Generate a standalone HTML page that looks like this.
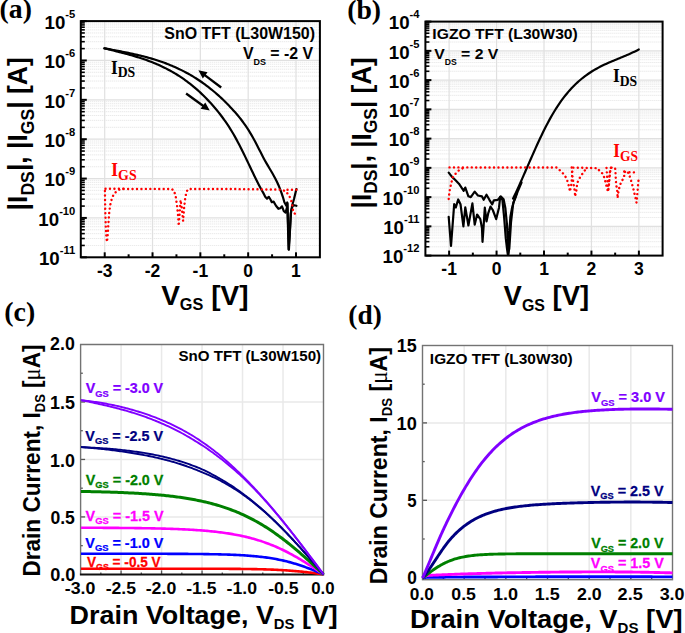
<!DOCTYPE html>
<html><head><meta charset="utf-8"><style>html,body{margin:0;padding:0;background:#fff;width:685px;height:633px;overflow:hidden}svg{display:block}</style></head><body>
<svg width="685" height="633" viewBox="0 0 685 633">
<rect width="685" height="633" fill="#fff"/>
<line x1="81.8" y1="48.62" x2="318.9" y2="48.62" stroke="#bdbdbd" stroke-width="0.9" stroke-dasharray="0.9 1.1" opacity="0.5"/>
<line x1="81.8" y1="41.68" x2="318.9" y2="41.68" stroke="#bdbdbd" stroke-width="0.9" stroke-dasharray="0.9 1.1" opacity="0.5"/>
<line x1="81.8" y1="36.77" x2="318.9" y2="36.77" stroke="#bdbdbd" stroke-width="0.9" stroke-dasharray="0.9 1.1" opacity="0.5"/>
<line x1="81.8" y1="32.95" x2="318.9" y2="32.95" stroke="#bdbdbd" stroke-width="0.9" stroke-dasharray="0.9 1.1" opacity="0.5"/>
<line x1="81.8" y1="29.83" x2="318.9" y2="29.83" stroke="#bdbdbd" stroke-width="0.9" stroke-dasharray="0.9 1.1" opacity="0.5"/>
<line x1="81.8" y1="27.2" x2="318.9" y2="27.2" stroke="#bdbdbd" stroke-width="0.9" stroke-dasharray="0.9 1.1" opacity="0.5"/>
<line x1="81.8" y1="24.92" x2="318.9" y2="24.92" stroke="#bdbdbd" stroke-width="0.9" stroke-dasharray="0.9 1.1" opacity="0.5"/>
<line x1="81.8" y1="22.9" x2="318.9" y2="22.9" stroke="#bdbdbd" stroke-width="0.9" stroke-dasharray="0.9 1.1" opacity="0.5"/>
<line x1="81.8" y1="87.98" x2="318.9" y2="87.98" stroke="#bdbdbd" stroke-width="0.9" stroke-dasharray="0.9 1.1" opacity="0.5"/>
<line x1="81.8" y1="81.05" x2="318.9" y2="81.05" stroke="#bdbdbd" stroke-width="0.9" stroke-dasharray="0.9 1.1" opacity="0.5"/>
<line x1="81.8" y1="76.13" x2="318.9" y2="76.13" stroke="#bdbdbd" stroke-width="0.9" stroke-dasharray="0.9 1.1" opacity="0.5"/>
<line x1="81.8" y1="72.32" x2="318.9" y2="72.32" stroke="#bdbdbd" stroke-width="0.9" stroke-dasharray="0.9 1.1" opacity="0.5"/>
<line x1="81.8" y1="69.2" x2="318.9" y2="69.2" stroke="#bdbdbd" stroke-width="0.9" stroke-dasharray="0.9 1.1" opacity="0.5"/>
<line x1="81.8" y1="66.56" x2="318.9" y2="66.56" stroke="#bdbdbd" stroke-width="0.9" stroke-dasharray="0.9 1.1" opacity="0.5"/>
<line x1="81.8" y1="64.28" x2="318.9" y2="64.28" stroke="#bdbdbd" stroke-width="0.9" stroke-dasharray="0.9 1.1" opacity="0.5"/>
<line x1="81.8" y1="62.27" x2="318.9" y2="62.27" stroke="#bdbdbd" stroke-width="0.9" stroke-dasharray="0.9 1.1" opacity="0.5"/>
<line x1="81.8" y1="127.35" x2="318.9" y2="127.35" stroke="#bdbdbd" stroke-width="0.9" stroke-dasharray="0.9 1.1" opacity="0.5"/>
<line x1="81.8" y1="120.42" x2="318.9" y2="120.42" stroke="#bdbdbd" stroke-width="0.9" stroke-dasharray="0.9 1.1" opacity="0.5"/>
<line x1="81.8" y1="115.5" x2="318.9" y2="115.5" stroke="#bdbdbd" stroke-width="0.9" stroke-dasharray="0.9 1.1" opacity="0.5"/>
<line x1="81.8" y1="111.68" x2="318.9" y2="111.68" stroke="#bdbdbd" stroke-width="0.9" stroke-dasharray="0.9 1.1" opacity="0.5"/>
<line x1="81.8" y1="108.57" x2="318.9" y2="108.57" stroke="#bdbdbd" stroke-width="0.9" stroke-dasharray="0.9 1.1" opacity="0.5"/>
<line x1="81.8" y1="105.93" x2="318.9" y2="105.93" stroke="#bdbdbd" stroke-width="0.9" stroke-dasharray="0.9 1.1" opacity="0.5"/>
<line x1="81.8" y1="103.65" x2="318.9" y2="103.65" stroke="#bdbdbd" stroke-width="0.9" stroke-dasharray="0.9 1.1" opacity="0.5"/>
<line x1="81.8" y1="101.63" x2="318.9" y2="101.63" stroke="#bdbdbd" stroke-width="0.9" stroke-dasharray="0.9 1.1" opacity="0.5"/>
<line x1="81.8" y1="166.72" x2="318.9" y2="166.72" stroke="#bdbdbd" stroke-width="0.9" stroke-dasharray="0.9 1.1" opacity="0.5"/>
<line x1="81.8" y1="159.78" x2="318.9" y2="159.78" stroke="#bdbdbd" stroke-width="0.9" stroke-dasharray="0.9 1.1" opacity="0.5"/>
<line x1="81.8" y1="154.87" x2="318.9" y2="154.87" stroke="#bdbdbd" stroke-width="0.9" stroke-dasharray="0.9 1.1" opacity="0.5"/>
<line x1="81.8" y1="151.05" x2="318.9" y2="151.05" stroke="#bdbdbd" stroke-width="0.9" stroke-dasharray="0.9 1.1" opacity="0.5"/>
<line x1="81.8" y1="147.93" x2="318.9" y2="147.93" stroke="#bdbdbd" stroke-width="0.9" stroke-dasharray="0.9 1.1" opacity="0.5"/>
<line x1="81.8" y1="145.3" x2="318.9" y2="145.3" stroke="#bdbdbd" stroke-width="0.9" stroke-dasharray="0.9 1.1" opacity="0.5"/>
<line x1="81.8" y1="143.02" x2="318.9" y2="143.02" stroke="#bdbdbd" stroke-width="0.9" stroke-dasharray="0.9 1.1" opacity="0.5"/>
<line x1="81.8" y1="141" x2="318.9" y2="141" stroke="#bdbdbd" stroke-width="0.9" stroke-dasharray="0.9 1.1" opacity="0.5"/>
<line x1="81.8" y1="206.08" x2="318.9" y2="206.08" stroke="#bdbdbd" stroke-width="0.9" stroke-dasharray="0.9 1.1" opacity="0.5"/>
<line x1="81.8" y1="199.15" x2="318.9" y2="199.15" stroke="#bdbdbd" stroke-width="0.9" stroke-dasharray="0.9 1.1" opacity="0.5"/>
<line x1="81.8" y1="194.23" x2="318.9" y2="194.23" stroke="#bdbdbd" stroke-width="0.9" stroke-dasharray="0.9 1.1" opacity="0.5"/>
<line x1="81.8" y1="190.42" x2="318.9" y2="190.42" stroke="#bdbdbd" stroke-width="0.9" stroke-dasharray="0.9 1.1" opacity="0.5"/>
<line x1="81.8" y1="187.3" x2="318.9" y2="187.3" stroke="#bdbdbd" stroke-width="0.9" stroke-dasharray="0.9 1.1" opacity="0.5"/>
<line x1="81.8" y1="184.66" x2="318.9" y2="184.66" stroke="#bdbdbd" stroke-width="0.9" stroke-dasharray="0.9 1.1" opacity="0.5"/>
<line x1="81.8" y1="182.38" x2="318.9" y2="182.38" stroke="#bdbdbd" stroke-width="0.9" stroke-dasharray="0.9 1.1" opacity="0.5"/>
<line x1="81.8" y1="180.37" x2="318.9" y2="180.37" stroke="#bdbdbd" stroke-width="0.9" stroke-dasharray="0.9 1.1" opacity="0.5"/>
<line x1="81.8" y1="245.45" x2="318.9" y2="245.45" stroke="#bdbdbd" stroke-width="0.9" stroke-dasharray="0.9 1.1" opacity="0.5"/>
<line x1="81.8" y1="238.52" x2="318.9" y2="238.52" stroke="#bdbdbd" stroke-width="0.9" stroke-dasharray="0.9 1.1" opacity="0.5"/>
<line x1="81.8" y1="233.6" x2="318.9" y2="233.6" stroke="#bdbdbd" stroke-width="0.9" stroke-dasharray="0.9 1.1" opacity="0.5"/>
<line x1="81.8" y1="229.78" x2="318.9" y2="229.78" stroke="#bdbdbd" stroke-width="0.9" stroke-dasharray="0.9 1.1" opacity="0.5"/>
<line x1="81.8" y1="226.67" x2="318.9" y2="226.67" stroke="#bdbdbd" stroke-width="0.9" stroke-dasharray="0.9 1.1" opacity="0.5"/>
<line x1="81.8" y1="224.03" x2="318.9" y2="224.03" stroke="#bdbdbd" stroke-width="0.9" stroke-dasharray="0.9 1.1" opacity="0.5"/>
<line x1="81.8" y1="221.75" x2="318.9" y2="221.75" stroke="#bdbdbd" stroke-width="0.9" stroke-dasharray="0.9 1.1" opacity="0.5"/>
<line x1="81.8" y1="219.73" x2="318.9" y2="219.73" stroke="#bdbdbd" stroke-width="0.9" stroke-dasharray="0.9 1.1" opacity="0.5"/>
<line x1="80.8" y1="60.47" x2="319.9" y2="60.47" stroke="#e0e0e0" stroke-width="1.2"/>
<line x1="80.8" y1="99.83" x2="319.9" y2="99.83" stroke="#e0e0e0" stroke-width="1.2"/>
<line x1="80.8" y1="139.2" x2="319.9" y2="139.2" stroke="#e0e0e0" stroke-width="1.2"/>
<line x1="80.8" y1="178.57" x2="319.9" y2="178.57" stroke="#e0e0e0" stroke-width="1.2"/>
<line x1="80.8" y1="217.93" x2="319.9" y2="217.93" stroke="#e0e0e0" stroke-width="1.2"/>
<line x1="104.71" y1="21.1" x2="104.71" y2="257.3" stroke="#e0e0e0" stroke-width="1.2"/>
<line x1="152.53" y1="21.1" x2="152.53" y2="257.3" stroke="#e0e0e0" stroke-width="1.2"/>
<line x1="200.35" y1="21.1" x2="200.35" y2="257.3" stroke="#e0e0e0" stroke-width="1.2"/>
<line x1="248.17" y1="21.1" x2="248.17" y2="257.3" stroke="#e0e0e0" stroke-width="1.2"/>
<line x1="295.99" y1="21.1" x2="295.99" y2="257.3" stroke="#e0e0e0" stroke-width="1.2"/>
<line x1="80.8" y1="21.1" x2="86.8" y2="21.1" stroke="#000" stroke-width="2"/>
<line x1="80.8" y1="48.62" x2="84.8" y2="48.62" stroke="#000" stroke-width="1.6"/>
<line x1="80.8" y1="41.68" x2="84.8" y2="41.68" stroke="#000" stroke-width="1.6"/>
<line x1="80.8" y1="36.77" x2="84.8" y2="36.77" stroke="#000" stroke-width="1.6"/>
<line x1="80.8" y1="32.95" x2="84.8" y2="32.95" stroke="#000" stroke-width="1.6"/>
<line x1="80.8" y1="29.83" x2="84.8" y2="29.83" stroke="#000" stroke-width="1.6"/>
<line x1="80.8" y1="27.2" x2="84.8" y2="27.2" stroke="#000" stroke-width="1.6"/>
<line x1="80.8" y1="24.92" x2="84.8" y2="24.92" stroke="#000" stroke-width="1.6"/>
<line x1="80.8" y1="22.9" x2="84.8" y2="22.9" stroke="#000" stroke-width="1.6"/>
<line x1="80.8" y1="60.47" x2="86.8" y2="60.47" stroke="#000" stroke-width="2"/>
<line x1="80.8" y1="87.98" x2="84.8" y2="87.98" stroke="#000" stroke-width="1.6"/>
<line x1="80.8" y1="81.05" x2="84.8" y2="81.05" stroke="#000" stroke-width="1.6"/>
<line x1="80.8" y1="76.13" x2="84.8" y2="76.13" stroke="#000" stroke-width="1.6"/>
<line x1="80.8" y1="72.32" x2="84.8" y2="72.32" stroke="#000" stroke-width="1.6"/>
<line x1="80.8" y1="69.2" x2="84.8" y2="69.2" stroke="#000" stroke-width="1.6"/>
<line x1="80.8" y1="66.56" x2="84.8" y2="66.56" stroke="#000" stroke-width="1.6"/>
<line x1="80.8" y1="64.28" x2="84.8" y2="64.28" stroke="#000" stroke-width="1.6"/>
<line x1="80.8" y1="62.27" x2="84.8" y2="62.27" stroke="#000" stroke-width="1.6"/>
<line x1="80.8" y1="99.83" x2="86.8" y2="99.83" stroke="#000" stroke-width="2"/>
<line x1="80.8" y1="127.35" x2="84.8" y2="127.35" stroke="#000" stroke-width="1.6"/>
<line x1="80.8" y1="120.42" x2="84.8" y2="120.42" stroke="#000" stroke-width="1.6"/>
<line x1="80.8" y1="115.5" x2="84.8" y2="115.5" stroke="#000" stroke-width="1.6"/>
<line x1="80.8" y1="111.68" x2="84.8" y2="111.68" stroke="#000" stroke-width="1.6"/>
<line x1="80.8" y1="108.57" x2="84.8" y2="108.57" stroke="#000" stroke-width="1.6"/>
<line x1="80.8" y1="105.93" x2="84.8" y2="105.93" stroke="#000" stroke-width="1.6"/>
<line x1="80.8" y1="103.65" x2="84.8" y2="103.65" stroke="#000" stroke-width="1.6"/>
<line x1="80.8" y1="101.63" x2="84.8" y2="101.63" stroke="#000" stroke-width="1.6"/>
<line x1="80.8" y1="139.2" x2="86.8" y2="139.2" stroke="#000" stroke-width="2"/>
<line x1="80.8" y1="166.72" x2="84.8" y2="166.72" stroke="#000" stroke-width="1.6"/>
<line x1="80.8" y1="159.78" x2="84.8" y2="159.78" stroke="#000" stroke-width="1.6"/>
<line x1="80.8" y1="154.87" x2="84.8" y2="154.87" stroke="#000" stroke-width="1.6"/>
<line x1="80.8" y1="151.05" x2="84.8" y2="151.05" stroke="#000" stroke-width="1.6"/>
<line x1="80.8" y1="147.93" x2="84.8" y2="147.93" stroke="#000" stroke-width="1.6"/>
<line x1="80.8" y1="145.3" x2="84.8" y2="145.3" stroke="#000" stroke-width="1.6"/>
<line x1="80.8" y1="143.02" x2="84.8" y2="143.02" stroke="#000" stroke-width="1.6"/>
<line x1="80.8" y1="141" x2="84.8" y2="141" stroke="#000" stroke-width="1.6"/>
<line x1="80.8" y1="178.57" x2="86.8" y2="178.57" stroke="#000" stroke-width="2"/>
<line x1="80.8" y1="206.08" x2="84.8" y2="206.08" stroke="#000" stroke-width="1.6"/>
<line x1="80.8" y1="199.15" x2="84.8" y2="199.15" stroke="#000" stroke-width="1.6"/>
<line x1="80.8" y1="194.23" x2="84.8" y2="194.23" stroke="#000" stroke-width="1.6"/>
<line x1="80.8" y1="190.42" x2="84.8" y2="190.42" stroke="#000" stroke-width="1.6"/>
<line x1="80.8" y1="187.3" x2="84.8" y2="187.3" stroke="#000" stroke-width="1.6"/>
<line x1="80.8" y1="184.66" x2="84.8" y2="184.66" stroke="#000" stroke-width="1.6"/>
<line x1="80.8" y1="182.38" x2="84.8" y2="182.38" stroke="#000" stroke-width="1.6"/>
<line x1="80.8" y1="180.37" x2="84.8" y2="180.37" stroke="#000" stroke-width="1.6"/>
<line x1="80.8" y1="217.93" x2="86.8" y2="217.93" stroke="#000" stroke-width="2"/>
<line x1="80.8" y1="245.45" x2="84.8" y2="245.45" stroke="#000" stroke-width="1.6"/>
<line x1="80.8" y1="238.52" x2="84.8" y2="238.52" stroke="#000" stroke-width="1.6"/>
<line x1="80.8" y1="233.6" x2="84.8" y2="233.6" stroke="#000" stroke-width="1.6"/>
<line x1="80.8" y1="229.78" x2="84.8" y2="229.78" stroke="#000" stroke-width="1.6"/>
<line x1="80.8" y1="226.67" x2="84.8" y2="226.67" stroke="#000" stroke-width="1.6"/>
<line x1="80.8" y1="224.03" x2="84.8" y2="224.03" stroke="#000" stroke-width="1.6"/>
<line x1="80.8" y1="221.75" x2="84.8" y2="221.75" stroke="#000" stroke-width="1.6"/>
<line x1="80.8" y1="219.73" x2="84.8" y2="219.73" stroke="#000" stroke-width="1.6"/>
<line x1="80.8" y1="257.3" x2="86.8" y2="257.3" stroke="#000" stroke-width="2"/>
<line x1="104.71" y1="257.3" x2="104.71" y2="252.3" stroke="#000" stroke-width="2"/>
<line x1="152.53" y1="257.3" x2="152.53" y2="252.3" stroke="#000" stroke-width="2"/>
<line x1="200.35" y1="257.3" x2="200.35" y2="252.3" stroke="#000" stroke-width="2"/>
<line x1="248.17" y1="257.3" x2="248.17" y2="252.3" stroke="#000" stroke-width="2"/>
<line x1="295.99" y1="257.3" x2="295.99" y2="252.3" stroke="#000" stroke-width="2"/>
<line x1="128.62" y1="257.3" x2="128.62" y2="254.3" stroke="#000" stroke-width="2"/>
<line x1="176.44" y1="257.3" x2="176.44" y2="254.3" stroke="#000" stroke-width="2"/>
<line x1="224.26" y1="257.3" x2="224.26" y2="254.3" stroke="#000" stroke-width="2"/>
<line x1="272.08" y1="257.3" x2="272.08" y2="254.3" stroke="#000" stroke-width="2"/>
<rect x="80.8" y="21.1" width="239.1" height="236.2" fill="none" stroke="#000" stroke-width="2"/>
<text x="75.3" y="28.8" text-anchor="end" font-family="Liberation Sans, sans-serif" font-weight="bold" font-size="18.7">10<tspan dy="-10.9" font-size="11.2">-5</tspan></text>
<text x="75.3" y="68.17" text-anchor="end" font-family="Liberation Sans, sans-serif" font-weight="bold" font-size="18.7">10<tspan dy="-10.9" font-size="11.2">-6</tspan></text>
<text x="75.3" y="107.53" text-anchor="end" font-family="Liberation Sans, sans-serif" font-weight="bold" font-size="18.7">10<tspan dy="-10.9" font-size="11.2">-7</tspan></text>
<text x="75.3" y="146.9" text-anchor="end" font-family="Liberation Sans, sans-serif" font-weight="bold" font-size="18.7">10<tspan dy="-10.9" font-size="11.2">-8</tspan></text>
<text x="75.3" y="186.27" text-anchor="end" font-family="Liberation Sans, sans-serif" font-weight="bold" font-size="18.7">10<tspan dy="-10.9" font-size="11.2">-9</tspan></text>
<text x="75.3" y="225.63" text-anchor="end" font-family="Liberation Sans, sans-serif" font-weight="bold" font-size="18.7">10<tspan dy="-10.9" font-size="11.2">-10</tspan></text>
<text x="75.3" y="265" text-anchor="end" font-family="Liberation Sans, sans-serif" font-weight="bold" font-size="18.7">10<tspan dy="-10.9" font-size="11.2">-11</tspan></text>
<text x="104.71" y="276.6" text-anchor="middle" font-family="Liberation Sans, sans-serif" font-weight="bold" font-size="17.5">-3</text>
<text x="152.53" y="276.6" text-anchor="middle" font-family="Liberation Sans, sans-serif" font-weight="bold" font-size="17.5">-2</text>
<text x="200.35" y="276.6" text-anchor="middle" font-family="Liberation Sans, sans-serif" font-weight="bold" font-size="17.5">-1</text>
<text x="248.17" y="276.6" text-anchor="middle" font-family="Liberation Sans, sans-serif" font-weight="bold" font-size="17.5">0</text>
<text x="295.99" y="276.6" text-anchor="middle" font-family="Liberation Sans, sans-serif" font-weight="bold" font-size="17.5">1</text>
<text id="a_xl" transform="translate(161.17,304.88) scale(1.0185,1)" font-family="Liberation Sans, sans-serif" font-weight="bold" font-size="27.5" fill="#000">V<tspan dy="5.4" font-size="16">GS</tspan><tspan dy="-5.4"> [V]</tspan></text>
<text id="a_yl" transform="translate(27.24,210.38) rotate(-90) scale(0.9285,1)" font-family="Liberation Sans, sans-serif" font-weight="bold" font-size="28.5" fill="#000">|I<tspan dy="6.3" font-size="19">DS</tspan><tspan dy="-6.3">|, |I</tspan><tspan dy="6.3" font-size="19">GS</tspan><tspan dy="-6.3">| [A]</tspan></text>
<text id="a_lbl" transform="translate(-0.38,18.4) scale(1.0261,1)" font-family="Liberation Serif, serif" font-weight="bold" font-size="27" fill="#000">(a)</text>
<text id="a_t1" transform="translate(164.37,39) scale(0.9977,1)" font-family="Liberation Sans, sans-serif" font-weight="bold" font-size="16" fill="#000">SnO TFT (L30W150)</text>
<text id="a_t2" transform="translate(242.89,58.82) scale(0.9947,1)" font-family="Liberation Sans, sans-serif" font-weight="bold" font-size="16" fill="#000">V<tspan dy="6.2" font-size="9">DS</tspan><tspan dy="-6.2"> = -2 V</tspan></text>
<text id="a_ids" transform="translate(110.97,73.5) scale(0.9160,1)" font-family="Liberation Serif, serif" font-weight="bold" font-size="18.8" fill="#000">I<tspan dy="3.6" font-size="15">DS</tspan></text>
<text id="a_igs" transform="translate(111.31,176.32) scale(0.9264,1)" font-family="Liberation Serif, serif" font-weight="bold" font-size="18.8" fill="#f00">I<tspan dy="3.6" font-size="15">GS</tspan></text>
<path d="M104.4,48.3 L105.9,48.58 L107.4,48.86 L108.9,49.15 L110.4,49.43 L111.9,49.71 L113.4,49.99 L114.9,50.28 L116.4,50.56 L117.9,50.85 L119.4,51.14 L120.9,51.43 L122.4,51.72 L123.9,52.02 L125.4,52.32 L126.9,52.63 L128.4,52.94 L129.9,53.25 L131.4,53.57 L132.9,53.9 L134.4,54.23 L135.9,54.57 L137.4,54.92 L138.9,55.27 L140.4,55.64 L141.9,56.01 L143.4,56.39 L144.9,56.77 L146.4,57.17 L147.9,57.58 L149.4,58 L150.9,58.42 L152.4,58.86 L153.9,59.31 L155.4,59.78 L156.9,60.25 L158.4,60.74 L159.9,61.24 L161.4,61.76 L162.9,62.29 L164.4,62.83 L165.9,63.39 L167.4,63.96 L168.9,64.55 L170.4,65.15 L171.9,65.77 L173.4,66.41 L174.9,67.07 L176.4,67.74 L177.9,68.43 L179.4,69.14 L180.9,69.87 L182.4,70.62 L183.9,71.38 L185.4,72.17 L186.9,72.98 L188.4,73.81 L189.9,74.66 L191.4,75.53 L192.9,76.42 L194.4,77.34 L195.9,78.28 L197.4,79.24 L198.9,80.23 L200.4,81.24 L201.9,82.27 L203.4,83.33 L204.9,84.42 L206.4,85.53 L207.9,86.67 L209.4,87.83 L210.9,89.02 L212.4,90.24 L213.9,91.48 L215.4,92.76 L216.9,94.06 L218.4,95.39 L219.9,96.76 L221.4,98.15 L222.9,99.57 L224.4,101.02 L225.9,102.5 L227.4,104.02 L228.9,105.56 L230.4,107.14 L231.9,108.76 L233.4,110.4 L234.9,112.08 L236.4,113.81 L237.9,115.58 L239.4,117.41 L240.9,119.3 L242.4,121.26 L243.9,123.3 L245.4,125.42 L246.9,127.62 L248.4,129.92 L249.9,132.32 L251.4,134.83 L252.9,137.46 L254.4,140.2 L255.9,143.05 L257.4,145.96 L258.9,148.91 L260.4,151.87 L261.9,154.8 L263.4,157.67 L264.9,160.45 L266.4,163.12 L267.9,165.68 L269.4,168.2 L270.9,170.73 L272.4,173.3 L273.9,175.97 L275.4,178.78 L276.9,181.79 L278.4,185.05 L279.9,188.61 L281.4,192.57 L282.9,197.06 L284.4,202.19 L284.4,202.2 L286.2,205.5 L287.3,202.5 L288.6,249.5 L289.7,234 L290.7,214 L292.3,205 L294,199 L296.4,189" fill="none" stroke="#000" stroke-width="2.2" stroke-linejoin="round" stroke-linecap="round"/>
<path d="M104.4,48.29 L105.9,48.67 L107.4,49.05 L108.9,49.42 L110.4,49.8 L111.9,50.18 L113.4,50.55 L114.9,50.93 L116.4,51.31 L117.9,51.69 L119.4,52.07 L120.9,52.46 L122.4,52.85 L123.9,53.24 L125.4,53.64 L126.9,54.05 L128.4,54.46 L129.9,54.87 L131.4,55.3 L132.9,55.73 L134.4,56.17 L135.9,56.62 L137.4,57.08 L138.9,57.55 L140.4,58.03 L141.9,58.52 L143.4,59.03 L144.9,59.54 L146.4,60.07 L147.9,60.61 L149.4,61.17 L150.9,61.74 L152.4,62.33 L153.9,62.93 L155.4,63.55 L156.9,64.19 L158.4,64.84 L159.9,65.51 L161.4,66.2 L162.9,66.91 L164.4,67.64 L165.9,68.39 L167.4,69.17 L168.9,69.96 L170.4,70.78 L171.9,71.62 L173.4,72.48 L174.9,73.36 L176.4,74.28 L177.9,75.21 L179.4,76.17 L180.9,77.16 L182.4,78.18 L183.9,79.22 L185.4,80.29 L186.9,81.39 L188.4,82.52 L189.9,83.68 L191.4,84.87 L192.9,86.09 L194.4,87.34 L195.9,88.62 L197.4,89.94 L198.9,91.29 L200.4,92.67 L201.9,94.09 L203.4,95.54 L204.9,97.03 L206.4,98.56 L207.9,100.12 L209.4,101.72 L210.9,103.36 L212.4,105.03 L213.9,106.75 L215.4,108.5 L216.9,110.3 L218.4,112.15 L219.9,114.04 L221.4,115.99 L222.9,118 L224.4,120.08 L225.9,122.22 L227.4,124.42 L228.9,126.71 L230.4,129.07 L231.9,131.52 L233.4,134.05 L234.9,136.67 L236.4,139.38 L237.9,142.17 L239.4,145.04 L240.9,147.98 L242.4,150.97 L243.9,154.03 L245.4,157.12 L246.9,160.25 L248.4,163.4 L249.9,166.55 L251.4,169.69 L252.9,172.82 L254.4,175.91 L255.9,178.96 L257.4,181.96 L258.9,184.88 L260.4,187.72 L261.9,190.47 L263.4,193.11 L263.4,193.1 L265.2,196.8 L267,198.6 L268.8,196.8 L270.6,199.8 L271.8,202.2 L273.6,201.6 L276,205.8 L278.4,208.8 L280.2,208.2 L282,206.4 L283.8,211.2 L285.6,212.6 L286.8,208 L287.4,203.5 L288.2,228 L288.9,249.6 L289.9,232 L291.1,211 L292.6,206 L294,205.2 L296.4,205.8" fill="none" stroke="#000" stroke-width="2.2" stroke-linejoin="round" stroke-linecap="round"/>
<line x1="221.2" y1="87.5" x2="204.39" y2="74.82" stroke="#000" stroke-width="2.3"/>
<path d="M198.4,70.3 L207.59,72.23 L202.78,78.61 Z" fill="#000"/>
<line x1="186.1" y1="93.5" x2="203.72" y2="106.21" stroke="#000" stroke-width="2.3"/>
<path d="M209.8,110.6 L200.57,108.87 L205.25,102.38 Z" fill="#000"/>
<path d="M104.9,191 L105.1,203 L105.4,215 L105.8,227 L106.3,236 L106.9,242 L107.6,237 L108.1,229 L108.6,221 L109.2,213 L110.1,205.5 L111.2,200.8 L112.6,196.5 L115.2,192.5 L119.6,189.4 L124,189 L150,188.9 L171.5,189 L174,190.5 L175.8,197 L177.2,207 L178.2,217 L178.7,226 L179.6,214 L180.6,200 L181.8,208 L183.1,221 L184,209 L185.2,198 L186.6,191.5 L188.3,189 L230,189 L280.8,189.6 L285.6,191 L289.2,195.6 L291,199.8 L292.2,204.6 L292.8,208.8 L293.4,212.4 L296.2,214.8" fill="none" stroke="#f00" stroke-width="2.4" stroke-dasharray="0.05 4.4" stroke-linecap="round" stroke-linejoin="round"/>
<path d="M287.5,189.8 L296.5,189.8" fill="none" stroke="#f00" stroke-width="2.4" stroke-dasharray="0.05 4.4" stroke-linecap="round" stroke-linejoin="round"/>
<path d="M105.5,188.8 L124,188.8" fill="none" stroke="#f00" stroke-width="2.4" stroke-dasharray="0.05 4.4" stroke-linecap="round" stroke-linejoin="round"/>
<line x1="426.4" y1="42.04" x2="661.6" y2="42.04" stroke="#bdbdbd" stroke-width="0.9" stroke-dasharray="0.9 1.1" opacity="0.5"/>
<line x1="426.4" y1="36.89" x2="661.6" y2="36.89" stroke="#bdbdbd" stroke-width="0.9" stroke-dasharray="0.9 1.1" opacity="0.5"/>
<line x1="426.4" y1="33.24" x2="661.6" y2="33.24" stroke="#bdbdbd" stroke-width="0.9" stroke-dasharray="0.9 1.1" opacity="0.5"/>
<line x1="426.4" y1="30.41" x2="661.6" y2="30.41" stroke="#bdbdbd" stroke-width="0.9" stroke-dasharray="0.9 1.1" opacity="0.5"/>
<line x1="426.4" y1="28.09" x2="661.6" y2="28.09" stroke="#bdbdbd" stroke-width="0.9" stroke-dasharray="0.9 1.1" opacity="0.5"/>
<line x1="426.4" y1="26.13" x2="661.6" y2="26.13" stroke="#bdbdbd" stroke-width="0.9" stroke-dasharray="0.9 1.1" opacity="0.5"/>
<line x1="426.4" y1="24.43" x2="661.6" y2="24.43" stroke="#bdbdbd" stroke-width="0.9" stroke-dasharray="0.9 1.1" opacity="0.5"/>
<line x1="426.4" y1="22.94" x2="661.6" y2="22.94" stroke="#bdbdbd" stroke-width="0.9" stroke-dasharray="0.9 1.1" opacity="0.5"/>
<line x1="426.4" y1="71.29" x2="661.6" y2="71.29" stroke="#bdbdbd" stroke-width="0.9" stroke-dasharray="0.9 1.1" opacity="0.5"/>
<line x1="426.4" y1="66.14" x2="661.6" y2="66.14" stroke="#bdbdbd" stroke-width="0.9" stroke-dasharray="0.9 1.1" opacity="0.5"/>
<line x1="426.4" y1="62.49" x2="661.6" y2="62.49" stroke="#bdbdbd" stroke-width="0.9" stroke-dasharray="0.9 1.1" opacity="0.5"/>
<line x1="426.4" y1="59.66" x2="661.6" y2="59.66" stroke="#bdbdbd" stroke-width="0.9" stroke-dasharray="0.9 1.1" opacity="0.5"/>
<line x1="426.4" y1="57.34" x2="661.6" y2="57.34" stroke="#bdbdbd" stroke-width="0.9" stroke-dasharray="0.9 1.1" opacity="0.5"/>
<line x1="426.4" y1="55.38" x2="661.6" y2="55.38" stroke="#bdbdbd" stroke-width="0.9" stroke-dasharray="0.9 1.1" opacity="0.5"/>
<line x1="426.4" y1="53.68" x2="661.6" y2="53.68" stroke="#bdbdbd" stroke-width="0.9" stroke-dasharray="0.9 1.1" opacity="0.5"/>
<line x1="426.4" y1="52.19" x2="661.6" y2="52.19" stroke="#bdbdbd" stroke-width="0.9" stroke-dasharray="0.9 1.1" opacity="0.5"/>
<line x1="426.4" y1="100.54" x2="661.6" y2="100.54" stroke="#bdbdbd" stroke-width="0.9" stroke-dasharray="0.9 1.1" opacity="0.5"/>
<line x1="426.4" y1="95.39" x2="661.6" y2="95.39" stroke="#bdbdbd" stroke-width="0.9" stroke-dasharray="0.9 1.1" opacity="0.5"/>
<line x1="426.4" y1="91.74" x2="661.6" y2="91.74" stroke="#bdbdbd" stroke-width="0.9" stroke-dasharray="0.9 1.1" opacity="0.5"/>
<line x1="426.4" y1="88.91" x2="661.6" y2="88.91" stroke="#bdbdbd" stroke-width="0.9" stroke-dasharray="0.9 1.1" opacity="0.5"/>
<line x1="426.4" y1="86.59" x2="661.6" y2="86.59" stroke="#bdbdbd" stroke-width="0.9" stroke-dasharray="0.9 1.1" opacity="0.5"/>
<line x1="426.4" y1="84.63" x2="661.6" y2="84.63" stroke="#bdbdbd" stroke-width="0.9" stroke-dasharray="0.9 1.1" opacity="0.5"/>
<line x1="426.4" y1="82.93" x2="661.6" y2="82.93" stroke="#bdbdbd" stroke-width="0.9" stroke-dasharray="0.9 1.1" opacity="0.5"/>
<line x1="426.4" y1="81.44" x2="661.6" y2="81.44" stroke="#bdbdbd" stroke-width="0.9" stroke-dasharray="0.9 1.1" opacity="0.5"/>
<line x1="426.4" y1="129.79" x2="661.6" y2="129.79" stroke="#bdbdbd" stroke-width="0.9" stroke-dasharray="0.9 1.1" opacity="0.5"/>
<line x1="426.4" y1="124.64" x2="661.6" y2="124.64" stroke="#bdbdbd" stroke-width="0.9" stroke-dasharray="0.9 1.1" opacity="0.5"/>
<line x1="426.4" y1="120.99" x2="661.6" y2="120.99" stroke="#bdbdbd" stroke-width="0.9" stroke-dasharray="0.9 1.1" opacity="0.5"/>
<line x1="426.4" y1="118.16" x2="661.6" y2="118.16" stroke="#bdbdbd" stroke-width="0.9" stroke-dasharray="0.9 1.1" opacity="0.5"/>
<line x1="426.4" y1="115.84" x2="661.6" y2="115.84" stroke="#bdbdbd" stroke-width="0.9" stroke-dasharray="0.9 1.1" opacity="0.5"/>
<line x1="426.4" y1="113.88" x2="661.6" y2="113.88" stroke="#bdbdbd" stroke-width="0.9" stroke-dasharray="0.9 1.1" opacity="0.5"/>
<line x1="426.4" y1="112.18" x2="661.6" y2="112.18" stroke="#bdbdbd" stroke-width="0.9" stroke-dasharray="0.9 1.1" opacity="0.5"/>
<line x1="426.4" y1="110.69" x2="661.6" y2="110.69" stroke="#bdbdbd" stroke-width="0.9" stroke-dasharray="0.9 1.1" opacity="0.5"/>
<line x1="426.4" y1="159.04" x2="661.6" y2="159.04" stroke="#bdbdbd" stroke-width="0.9" stroke-dasharray="0.9 1.1" opacity="0.5"/>
<line x1="426.4" y1="153.89" x2="661.6" y2="153.89" stroke="#bdbdbd" stroke-width="0.9" stroke-dasharray="0.9 1.1" opacity="0.5"/>
<line x1="426.4" y1="150.24" x2="661.6" y2="150.24" stroke="#bdbdbd" stroke-width="0.9" stroke-dasharray="0.9 1.1" opacity="0.5"/>
<line x1="426.4" y1="147.41" x2="661.6" y2="147.41" stroke="#bdbdbd" stroke-width="0.9" stroke-dasharray="0.9 1.1" opacity="0.5"/>
<line x1="426.4" y1="145.09" x2="661.6" y2="145.09" stroke="#bdbdbd" stroke-width="0.9" stroke-dasharray="0.9 1.1" opacity="0.5"/>
<line x1="426.4" y1="143.13" x2="661.6" y2="143.13" stroke="#bdbdbd" stroke-width="0.9" stroke-dasharray="0.9 1.1" opacity="0.5"/>
<line x1="426.4" y1="141.43" x2="661.6" y2="141.43" stroke="#bdbdbd" stroke-width="0.9" stroke-dasharray="0.9 1.1" opacity="0.5"/>
<line x1="426.4" y1="139.94" x2="661.6" y2="139.94" stroke="#bdbdbd" stroke-width="0.9" stroke-dasharray="0.9 1.1" opacity="0.5"/>
<line x1="426.4" y1="188.29" x2="661.6" y2="188.29" stroke="#bdbdbd" stroke-width="0.9" stroke-dasharray="0.9 1.1" opacity="0.5"/>
<line x1="426.4" y1="183.14" x2="661.6" y2="183.14" stroke="#bdbdbd" stroke-width="0.9" stroke-dasharray="0.9 1.1" opacity="0.5"/>
<line x1="426.4" y1="179.49" x2="661.6" y2="179.49" stroke="#bdbdbd" stroke-width="0.9" stroke-dasharray="0.9 1.1" opacity="0.5"/>
<line x1="426.4" y1="176.66" x2="661.6" y2="176.66" stroke="#bdbdbd" stroke-width="0.9" stroke-dasharray="0.9 1.1" opacity="0.5"/>
<line x1="426.4" y1="174.34" x2="661.6" y2="174.34" stroke="#bdbdbd" stroke-width="0.9" stroke-dasharray="0.9 1.1" opacity="0.5"/>
<line x1="426.4" y1="172.38" x2="661.6" y2="172.38" stroke="#bdbdbd" stroke-width="0.9" stroke-dasharray="0.9 1.1" opacity="0.5"/>
<line x1="426.4" y1="170.68" x2="661.6" y2="170.68" stroke="#bdbdbd" stroke-width="0.9" stroke-dasharray="0.9 1.1" opacity="0.5"/>
<line x1="426.4" y1="169.19" x2="661.6" y2="169.19" stroke="#bdbdbd" stroke-width="0.9" stroke-dasharray="0.9 1.1" opacity="0.5"/>
<line x1="426.4" y1="217.54" x2="661.6" y2="217.54" stroke="#bdbdbd" stroke-width="0.9" stroke-dasharray="0.9 1.1" opacity="0.5"/>
<line x1="426.4" y1="212.39" x2="661.6" y2="212.39" stroke="#bdbdbd" stroke-width="0.9" stroke-dasharray="0.9 1.1" opacity="0.5"/>
<line x1="426.4" y1="208.74" x2="661.6" y2="208.74" stroke="#bdbdbd" stroke-width="0.9" stroke-dasharray="0.9 1.1" opacity="0.5"/>
<line x1="426.4" y1="205.91" x2="661.6" y2="205.91" stroke="#bdbdbd" stroke-width="0.9" stroke-dasharray="0.9 1.1" opacity="0.5"/>
<line x1="426.4" y1="203.59" x2="661.6" y2="203.59" stroke="#bdbdbd" stroke-width="0.9" stroke-dasharray="0.9 1.1" opacity="0.5"/>
<line x1="426.4" y1="201.63" x2="661.6" y2="201.63" stroke="#bdbdbd" stroke-width="0.9" stroke-dasharray="0.9 1.1" opacity="0.5"/>
<line x1="426.4" y1="199.93" x2="661.6" y2="199.93" stroke="#bdbdbd" stroke-width="0.9" stroke-dasharray="0.9 1.1" opacity="0.5"/>
<line x1="426.4" y1="198.44" x2="661.6" y2="198.44" stroke="#bdbdbd" stroke-width="0.9" stroke-dasharray="0.9 1.1" opacity="0.5"/>
<line x1="426.4" y1="246.79" x2="661.6" y2="246.79" stroke="#bdbdbd" stroke-width="0.9" stroke-dasharray="0.9 1.1" opacity="0.5"/>
<line x1="426.4" y1="241.64" x2="661.6" y2="241.64" stroke="#bdbdbd" stroke-width="0.9" stroke-dasharray="0.9 1.1" opacity="0.5"/>
<line x1="426.4" y1="237.99" x2="661.6" y2="237.99" stroke="#bdbdbd" stroke-width="0.9" stroke-dasharray="0.9 1.1" opacity="0.5"/>
<line x1="426.4" y1="235.16" x2="661.6" y2="235.16" stroke="#bdbdbd" stroke-width="0.9" stroke-dasharray="0.9 1.1" opacity="0.5"/>
<line x1="426.4" y1="232.84" x2="661.6" y2="232.84" stroke="#bdbdbd" stroke-width="0.9" stroke-dasharray="0.9 1.1" opacity="0.5"/>
<line x1="426.4" y1="230.88" x2="661.6" y2="230.88" stroke="#bdbdbd" stroke-width="0.9" stroke-dasharray="0.9 1.1" opacity="0.5"/>
<line x1="426.4" y1="229.18" x2="661.6" y2="229.18" stroke="#bdbdbd" stroke-width="0.9" stroke-dasharray="0.9 1.1" opacity="0.5"/>
<line x1="426.4" y1="227.69" x2="661.6" y2="227.69" stroke="#bdbdbd" stroke-width="0.9" stroke-dasharray="0.9 1.1" opacity="0.5"/>
<line x1="425.4" y1="50.85" x2="662.6" y2="50.85" stroke="#e0e0e0" stroke-width="1.2"/>
<line x1="425.4" y1="80.1" x2="662.6" y2="80.1" stroke="#e0e0e0" stroke-width="1.2"/>
<line x1="425.4" y1="109.35" x2="662.6" y2="109.35" stroke="#e0e0e0" stroke-width="1.2"/>
<line x1="425.4" y1="138.6" x2="662.6" y2="138.6" stroke="#e0e0e0" stroke-width="1.2"/>
<line x1="425.4" y1="167.85" x2="662.6" y2="167.85" stroke="#e0e0e0" stroke-width="1.2"/>
<line x1="425.4" y1="197.1" x2="662.6" y2="197.1" stroke="#e0e0e0" stroke-width="1.2"/>
<line x1="425.4" y1="226.35" x2="662.6" y2="226.35" stroke="#e0e0e0" stroke-width="1.2"/>
<line x1="449.12" y1="21.6" x2="449.12" y2="255.6" stroke="#e0e0e0" stroke-width="1.2"/>
<line x1="496.56" y1="21.6" x2="496.56" y2="255.6" stroke="#e0e0e0" stroke-width="1.2"/>
<line x1="544" y1="21.6" x2="544" y2="255.6" stroke="#e0e0e0" stroke-width="1.2"/>
<line x1="591.44" y1="21.6" x2="591.44" y2="255.6" stroke="#e0e0e0" stroke-width="1.2"/>
<line x1="638.88" y1="21.6" x2="638.88" y2="255.6" stroke="#e0e0e0" stroke-width="1.2"/>
<line x1="425.4" y1="21.6" x2="431.4" y2="21.6" stroke="#000" stroke-width="2"/>
<line x1="425.4" y1="42.04" x2="429.4" y2="42.04" stroke="#000" stroke-width="1.6"/>
<line x1="425.4" y1="36.89" x2="429.4" y2="36.89" stroke="#000" stroke-width="1.6"/>
<line x1="425.4" y1="33.24" x2="429.4" y2="33.24" stroke="#000" stroke-width="1.6"/>
<line x1="425.4" y1="30.41" x2="429.4" y2="30.41" stroke="#000" stroke-width="1.6"/>
<line x1="425.4" y1="28.09" x2="429.4" y2="28.09" stroke="#000" stroke-width="1.6"/>
<line x1="425.4" y1="26.13" x2="429.4" y2="26.13" stroke="#000" stroke-width="1.6"/>
<line x1="425.4" y1="24.43" x2="429.4" y2="24.43" stroke="#000" stroke-width="1.6"/>
<line x1="425.4" y1="22.94" x2="429.4" y2="22.94" stroke="#000" stroke-width="1.6"/>
<line x1="425.4" y1="50.85" x2="431.4" y2="50.85" stroke="#000" stroke-width="2"/>
<line x1="425.4" y1="71.29" x2="429.4" y2="71.29" stroke="#000" stroke-width="1.6"/>
<line x1="425.4" y1="66.14" x2="429.4" y2="66.14" stroke="#000" stroke-width="1.6"/>
<line x1="425.4" y1="62.49" x2="429.4" y2="62.49" stroke="#000" stroke-width="1.6"/>
<line x1="425.4" y1="59.66" x2="429.4" y2="59.66" stroke="#000" stroke-width="1.6"/>
<line x1="425.4" y1="57.34" x2="429.4" y2="57.34" stroke="#000" stroke-width="1.6"/>
<line x1="425.4" y1="55.38" x2="429.4" y2="55.38" stroke="#000" stroke-width="1.6"/>
<line x1="425.4" y1="53.68" x2="429.4" y2="53.68" stroke="#000" stroke-width="1.6"/>
<line x1="425.4" y1="52.19" x2="429.4" y2="52.19" stroke="#000" stroke-width="1.6"/>
<line x1="425.4" y1="80.1" x2="431.4" y2="80.1" stroke="#000" stroke-width="2"/>
<line x1="425.4" y1="100.54" x2="429.4" y2="100.54" stroke="#000" stroke-width="1.6"/>
<line x1="425.4" y1="95.39" x2="429.4" y2="95.39" stroke="#000" stroke-width="1.6"/>
<line x1="425.4" y1="91.74" x2="429.4" y2="91.74" stroke="#000" stroke-width="1.6"/>
<line x1="425.4" y1="88.91" x2="429.4" y2="88.91" stroke="#000" stroke-width="1.6"/>
<line x1="425.4" y1="86.59" x2="429.4" y2="86.59" stroke="#000" stroke-width="1.6"/>
<line x1="425.4" y1="84.63" x2="429.4" y2="84.63" stroke="#000" stroke-width="1.6"/>
<line x1="425.4" y1="82.93" x2="429.4" y2="82.93" stroke="#000" stroke-width="1.6"/>
<line x1="425.4" y1="81.44" x2="429.4" y2="81.44" stroke="#000" stroke-width="1.6"/>
<line x1="425.4" y1="109.35" x2="431.4" y2="109.35" stroke="#000" stroke-width="2"/>
<line x1="425.4" y1="129.79" x2="429.4" y2="129.79" stroke="#000" stroke-width="1.6"/>
<line x1="425.4" y1="124.64" x2="429.4" y2="124.64" stroke="#000" stroke-width="1.6"/>
<line x1="425.4" y1="120.99" x2="429.4" y2="120.99" stroke="#000" stroke-width="1.6"/>
<line x1="425.4" y1="118.16" x2="429.4" y2="118.16" stroke="#000" stroke-width="1.6"/>
<line x1="425.4" y1="115.84" x2="429.4" y2="115.84" stroke="#000" stroke-width="1.6"/>
<line x1="425.4" y1="113.88" x2="429.4" y2="113.88" stroke="#000" stroke-width="1.6"/>
<line x1="425.4" y1="112.18" x2="429.4" y2="112.18" stroke="#000" stroke-width="1.6"/>
<line x1="425.4" y1="110.69" x2="429.4" y2="110.69" stroke="#000" stroke-width="1.6"/>
<line x1="425.4" y1="138.6" x2="431.4" y2="138.6" stroke="#000" stroke-width="2"/>
<line x1="425.4" y1="159.04" x2="429.4" y2="159.04" stroke="#000" stroke-width="1.6"/>
<line x1="425.4" y1="153.89" x2="429.4" y2="153.89" stroke="#000" stroke-width="1.6"/>
<line x1="425.4" y1="150.24" x2="429.4" y2="150.24" stroke="#000" stroke-width="1.6"/>
<line x1="425.4" y1="147.41" x2="429.4" y2="147.41" stroke="#000" stroke-width="1.6"/>
<line x1="425.4" y1="145.09" x2="429.4" y2="145.09" stroke="#000" stroke-width="1.6"/>
<line x1="425.4" y1="143.13" x2="429.4" y2="143.13" stroke="#000" stroke-width="1.6"/>
<line x1="425.4" y1="141.43" x2="429.4" y2="141.43" stroke="#000" stroke-width="1.6"/>
<line x1="425.4" y1="139.94" x2="429.4" y2="139.94" stroke="#000" stroke-width="1.6"/>
<line x1="425.4" y1="167.85" x2="431.4" y2="167.85" stroke="#000" stroke-width="2"/>
<line x1="425.4" y1="188.29" x2="429.4" y2="188.29" stroke="#000" stroke-width="1.6"/>
<line x1="425.4" y1="183.14" x2="429.4" y2="183.14" stroke="#000" stroke-width="1.6"/>
<line x1="425.4" y1="179.49" x2="429.4" y2="179.49" stroke="#000" stroke-width="1.6"/>
<line x1="425.4" y1="176.66" x2="429.4" y2="176.66" stroke="#000" stroke-width="1.6"/>
<line x1="425.4" y1="174.34" x2="429.4" y2="174.34" stroke="#000" stroke-width="1.6"/>
<line x1="425.4" y1="172.38" x2="429.4" y2="172.38" stroke="#000" stroke-width="1.6"/>
<line x1="425.4" y1="170.68" x2="429.4" y2="170.68" stroke="#000" stroke-width="1.6"/>
<line x1="425.4" y1="169.19" x2="429.4" y2="169.19" stroke="#000" stroke-width="1.6"/>
<line x1="425.4" y1="197.1" x2="431.4" y2="197.1" stroke="#000" stroke-width="2"/>
<line x1="425.4" y1="217.54" x2="429.4" y2="217.54" stroke="#000" stroke-width="1.6"/>
<line x1="425.4" y1="212.39" x2="429.4" y2="212.39" stroke="#000" stroke-width="1.6"/>
<line x1="425.4" y1="208.74" x2="429.4" y2="208.74" stroke="#000" stroke-width="1.6"/>
<line x1="425.4" y1="205.91" x2="429.4" y2="205.91" stroke="#000" stroke-width="1.6"/>
<line x1="425.4" y1="203.59" x2="429.4" y2="203.59" stroke="#000" stroke-width="1.6"/>
<line x1="425.4" y1="201.63" x2="429.4" y2="201.63" stroke="#000" stroke-width="1.6"/>
<line x1="425.4" y1="199.93" x2="429.4" y2="199.93" stroke="#000" stroke-width="1.6"/>
<line x1="425.4" y1="198.44" x2="429.4" y2="198.44" stroke="#000" stroke-width="1.6"/>
<line x1="425.4" y1="226.35" x2="431.4" y2="226.35" stroke="#000" stroke-width="2"/>
<line x1="425.4" y1="246.79" x2="429.4" y2="246.79" stroke="#000" stroke-width="1.6"/>
<line x1="425.4" y1="241.64" x2="429.4" y2="241.64" stroke="#000" stroke-width="1.6"/>
<line x1="425.4" y1="237.99" x2="429.4" y2="237.99" stroke="#000" stroke-width="1.6"/>
<line x1="425.4" y1="235.16" x2="429.4" y2="235.16" stroke="#000" stroke-width="1.6"/>
<line x1="425.4" y1="232.84" x2="429.4" y2="232.84" stroke="#000" stroke-width="1.6"/>
<line x1="425.4" y1="230.88" x2="429.4" y2="230.88" stroke="#000" stroke-width="1.6"/>
<line x1="425.4" y1="229.18" x2="429.4" y2="229.18" stroke="#000" stroke-width="1.6"/>
<line x1="425.4" y1="227.69" x2="429.4" y2="227.69" stroke="#000" stroke-width="1.6"/>
<line x1="425.4" y1="255.6" x2="431.4" y2="255.6" stroke="#000" stroke-width="2"/>
<line x1="449.12" y1="255.6" x2="449.12" y2="250.6" stroke="#000" stroke-width="2"/>
<line x1="496.56" y1="255.6" x2="496.56" y2="250.6" stroke="#000" stroke-width="2"/>
<line x1="544" y1="255.6" x2="544" y2="250.6" stroke="#000" stroke-width="2"/>
<line x1="591.44" y1="255.6" x2="591.44" y2="250.6" stroke="#000" stroke-width="2"/>
<line x1="638.88" y1="255.6" x2="638.88" y2="250.6" stroke="#000" stroke-width="2"/>
<line x1="472.84" y1="255.6" x2="472.84" y2="252.6" stroke="#000" stroke-width="2"/>
<line x1="520.28" y1="255.6" x2="520.28" y2="252.6" stroke="#000" stroke-width="2"/>
<line x1="567.72" y1="255.6" x2="567.72" y2="252.6" stroke="#000" stroke-width="2"/>
<line x1="615.16" y1="255.6" x2="615.16" y2="252.6" stroke="#000" stroke-width="2"/>
<rect x="425.4" y="21.6" width="237.2" height="234" fill="none" stroke="#000" stroke-width="2"/>
<text x="419.5" y="29.3" text-anchor="end" font-family="Liberation Sans, sans-serif" font-weight="bold" font-size="18.7">10<tspan dy="-10.9" font-size="11.2">-4</tspan></text>
<text x="419.5" y="58.55" text-anchor="end" font-family="Liberation Sans, sans-serif" font-weight="bold" font-size="18.7">10<tspan dy="-10.9" font-size="11.2">-5</tspan></text>
<text x="419.5" y="87.8" text-anchor="end" font-family="Liberation Sans, sans-serif" font-weight="bold" font-size="18.7">10<tspan dy="-10.9" font-size="11.2">-6</tspan></text>
<text x="419.5" y="117.05" text-anchor="end" font-family="Liberation Sans, sans-serif" font-weight="bold" font-size="18.7">10<tspan dy="-10.9" font-size="11.2">-7</tspan></text>
<text x="419.5" y="146.3" text-anchor="end" font-family="Liberation Sans, sans-serif" font-weight="bold" font-size="18.7">10<tspan dy="-10.9" font-size="11.2">-8</tspan></text>
<text x="419.5" y="175.55" text-anchor="end" font-family="Liberation Sans, sans-serif" font-weight="bold" font-size="18.7">10<tspan dy="-10.9" font-size="11.2">-9</tspan></text>
<text x="419.5" y="204.8" text-anchor="end" font-family="Liberation Sans, sans-serif" font-weight="bold" font-size="18.7">10<tspan dy="-10.9" font-size="11.2">-10</tspan></text>
<text x="419.5" y="234.05" text-anchor="end" font-family="Liberation Sans, sans-serif" font-weight="bold" font-size="18.7">10<tspan dy="-10.9" font-size="11.2">-11</tspan></text>
<text x="419.5" y="263.3" text-anchor="end" font-family="Liberation Sans, sans-serif" font-weight="bold" font-size="18.7">10<tspan dy="-10.9" font-size="11.2">-12</tspan></text>
<text x="449.12" y="275.4" text-anchor="middle" font-family="Liberation Sans, sans-serif" font-weight="bold" font-size="17.5">-1</text>
<text x="496.56" y="275.4" text-anchor="middle" font-family="Liberation Sans, sans-serif" font-weight="bold" font-size="17.5">0</text>
<text x="544" y="275.4" text-anchor="middle" font-family="Liberation Sans, sans-serif" font-weight="bold" font-size="17.5">1</text>
<text x="591.44" y="275.4" text-anchor="middle" font-family="Liberation Sans, sans-serif" font-weight="bold" font-size="17.5">2</text>
<text x="638.88" y="275.4" text-anchor="middle" font-family="Liberation Sans, sans-serif" font-weight="bold" font-size="17.5">3</text>
<text id="b_xl" transform="translate(503.61,305.12) scale(0.9987,1)" font-family="Liberation Sans, sans-serif" font-weight="bold" font-size="27.5" fill="#000">V<tspan dy="5.4" font-size="16">GS</tspan><tspan dy="-5.4"> [V]</tspan></text>
<text id="b_yl" transform="translate(370.54,208.4) rotate(-90) scale(0.9171,1)" font-family="Liberation Sans, sans-serif" font-weight="bold" font-size="28.5" fill="#000">|I<tspan dy="6.3" font-size="19">DS</tspan><tspan dy="-6.3">|, |I</tspan><tspan dy="6.3" font-size="19">GS</tspan><tspan dy="-6.3">| [A]</tspan></text>
<text id="b_lbl" transform="translate(347.17,18.66) scale(1.0283,1)" font-family="Liberation Serif, serif" font-weight="bold" font-size="27" fill="#000">(b)</text>
<text id="b_t1" transform="translate(432.36,38.7) scale(1.0125,1)" font-family="Liberation Sans, sans-serif" font-weight="bold" font-size="15.5" fill="#000">IGZO TFT (L30W30)</text>
<text id="b_t2" transform="translate(434.13,58.66) scale(1.0187,1)" font-family="Liberation Sans, sans-serif" font-weight="bold" font-size="15.5" fill="#000">V<tspan dy="6.6" font-size="8.5">DS</tspan><tspan dy="-6.6"> = 2 V</tspan></text>
<text id="b_ids" transform="translate(613,81.5) scale(0.9106,1)" font-family="Liberation Serif, serif" font-weight="bold" font-size="19" fill="#000">I<tspan dy="4" font-size="15">DS</tspan></text>
<text id="b_igs" transform="translate(613.28,157.38) scale(0.8994,1)" font-family="Liberation Serif, serif" font-weight="bold" font-size="19" fill="#f00">I<tspan dy="4" font-size="15">GS</tspan></text>
<path d="M513,198.62 L514.5,195.57 L516,192.42 L517.5,189.19 L519,185.88 L520.5,182.52 L522,179.11 L523.5,175.67 L525,172.23 L526.5,168.78 L528,165.34 L529.5,161.9 L531,158.48 L532.5,155.08 L534,151.71 L535.5,148.37 L537,145.07 L538.5,141.8 L540,138.59 L541.5,135.43 L543,132.33 L544.5,129.29 L546,126.32 L547.5,123.43 L549,120.62 L550.5,117.89 L552,115.25 L553.5,112.71 L555,110.24 L556.5,107.87 L558,105.57 L559.5,103.36 L561,101.23 L562.5,99.17 L564,97.18 L565.5,95.27 L567,93.43 L568.5,91.66 L570,89.96 L571.5,88.32 L573,86.74 L574.5,85.22 L576,83.77 L577.5,82.37 L579,81.02 L580.5,79.73 L582,78.49 L583.5,77.29 L585,76.15 L586.5,75.05 L588,73.99 L589.5,72.97 L591,71.99 L592.5,71.05 L594,70.14 L595.5,69.27 L597,68.43 L598.5,67.61 L600,66.83 L601.5,66.07 L603,65.33 L604.5,64.61 L606,63.91 L607.5,63.23 L609,62.57 L610.5,61.92 L612,61.27 L613.5,60.64 L615,60.02 L616.5,59.4 L618,58.78 L619.5,58.17 L621,57.55 L622.5,56.93 L624,56.31 L625.5,55.68 L627,55.04 L628.5,54.4 L630,53.73 L631.5,53.06 L633,52.37 L634.5,51.65 L636,50.92 L637.5,50.17 L638.8,49.5" fill="none" stroke="#000" stroke-width="2.2" stroke-linejoin="round" stroke-linecap="round"/>
<path d="M448.7,172.6 L451.8,176.6 L455.8,180.5 L458.9,183.7 L463.7,190.8 L465.3,187.6 L468.4,196.3 L470.8,197.1 L474.7,191.6 L477.9,195.5 L482,196.4 L483.7,199.8 L486.5,194.7 L489.4,199.8 L492.2,204.3 L493.9,200.3 L497.9,199.8 L500.7,196.4 L503.6,199.2 L505.3,207.7 L507,224.8 L507.8,241.8 L508.5,254.3 L509.3,232.7 L510.4,216.8 L512.1,207.7 L514.4,199.8 L516.5,194" fill="none" stroke="#000" stroke-width="2.2" stroke-linejoin="round" stroke-linecap="round"/>
<path d="M448.7,216.8 L451,246 L454.2,204.2 L455.8,207.4 L458.2,199.5 L460.5,204.2 L463.4,226.3 L465.3,207.4 L468.4,225.5 L472.4,203.4 L474.7,224.7 L477.1,214.5 L480.3,219.1 L482,228.2 L482.5,241.8 L483.7,224.8 L484.8,207.7 L486.5,221.4 L488.2,213.4 L490.5,206.6 L492.8,210 L496.2,219.1 L499,207.7 L500.2,196.9 L502.4,199.8 L504.1,216.8 L505.8,238.4 L507,248.6 L507.8,254.3 L509.3,248.6 L511,222.5 L513.2,203.2 L515.5,197.5 L518,190.7 L521.5,182.5" fill="none" stroke="#000" stroke-width="2.2" stroke-linejoin="round" stroke-linecap="round"/>
<path d="M449.5,167.4 L555,167.5 L557,167.6 L560.3,170.7 L564.2,174.6 L566.7,178.8 L568.1,183.1 L569.2,187.4 L570,191.6 L571.2,185 L572,178 L572.3,171 L573,167.6 L597.8,168.2 L599.3,170.7 L603.3,174.2 L604.5,178.6 L605.7,182.9 L606.8,187.3 L608,191.6 L608.8,186 L609.4,180 L610,173 L610.8,167.6 L615.1,167.9 L615.5,172.6 L615.7,177 L615.9,180.9 L616.3,185.3 L617.1,189.6 L617.5,194 L617.5,198.3 L618.7,190 L619.9,185.3 L621.9,180.9 L624.2,177 L624.2,171.1 L628.6,173 L630.5,178.6 L631.7,182.9 L632.9,187.3 L634.1,191.6 L634.9,195.9 L636.1,199.9 L636.5,202.7 L636.9,198.7 L637.3,194 L637.7,189.6 L638,185.3 L638.4,181.3 L638.8,177" fill="none" stroke="#f00" stroke-width="2.4" stroke-dasharray="0.05 4.4" stroke-linecap="round" stroke-linejoin="round"/>
<path d="M448.7,199 L449.2,194 L449.8,190 L451,184.5 L452.6,177.4 L455.8,173.4 L459.7,169.5 L463.5,168 M571.7,167.5 L572.2,175 L573.5,183.4 L574.2,187.7 L574.9,192.3 L575,196.6 L576,192.3 L576.7,188.4 L577,183.8 L578.8,179.5 L581.3,175.3 L584.5,171 L586,168 M606.5,167.9 L607,175 L607.5,183 L608.2,190 L608.8,183 L609.2,179.4 L609.6,175 L610,170.7 L611,167.5 M625,172 L629,172.2 L633,172.2 L637.3,173" fill="none" stroke="#f00" stroke-width="2.4" stroke-dasharray="0.05 4.4" stroke-linecap="round" stroke-linejoin="round"/>
<line x1="121.08" y1="344.5" x2="121.08" y2="574.4" stroke="#e9e9e9" stroke-width="1.5"/>
<line x1="161.57" y1="344.5" x2="161.57" y2="574.4" stroke="#e9e9e9" stroke-width="1.5"/>
<line x1="202.05" y1="344.5" x2="202.05" y2="574.4" stroke="#e9e9e9" stroke-width="1.5"/>
<line x1="242.53" y1="344.5" x2="242.53" y2="574.4" stroke="#e9e9e9" stroke-width="1.5"/>
<line x1="283.02" y1="344.5" x2="283.02" y2="574.4" stroke="#e9e9e9" stroke-width="1.5"/>
<line x1="80.6" y1="516.92" x2="323.5" y2="516.92" stroke="#e9e9e9" stroke-width="1.5"/>
<line x1="80.6" y1="459.45" x2="323.5" y2="459.45" stroke="#e9e9e9" stroke-width="1.5"/>
<line x1="80.6" y1="401.98" x2="323.5" y2="401.98" stroke="#e9e9e9" stroke-width="1.5"/>
<line x1="80.6" y1="545.66" x2="82.8" y2="545.66" stroke="#555" stroke-width="1.3"/>
<line x1="80.6" y1="516.92" x2="85.1" y2="516.92" stroke="#555" stroke-width="1.3"/>
<line x1="80.6" y1="488.19" x2="82.8" y2="488.19" stroke="#555" stroke-width="1.3"/>
<line x1="80.6" y1="459.45" x2="85.1" y2="459.45" stroke="#555" stroke-width="1.3"/>
<line x1="80.6" y1="430.71" x2="82.8" y2="430.71" stroke="#555" stroke-width="1.3"/>
<line x1="80.6" y1="401.98" x2="85.1" y2="401.98" stroke="#555" stroke-width="1.3"/>
<line x1="80.6" y1="373.24" x2="82.8" y2="373.24" stroke="#555" stroke-width="1.3"/>
<line x1="100.84" y1="574.4" x2="100.84" y2="572.4" stroke="#555" stroke-width="1.3"/>
<line x1="121.08" y1="574.4" x2="121.08" y2="570.4" stroke="#555" stroke-width="1.3"/>
<line x1="141.33" y1="574.4" x2="141.33" y2="572.4" stroke="#555" stroke-width="1.3"/>
<line x1="161.57" y1="574.4" x2="161.57" y2="570.4" stroke="#555" stroke-width="1.3"/>
<line x1="181.81" y1="574.4" x2="181.81" y2="572.4" stroke="#555" stroke-width="1.3"/>
<line x1="202.05" y1="574.4" x2="202.05" y2="570.4" stroke="#555" stroke-width="1.3"/>
<line x1="222.29" y1="574.4" x2="222.29" y2="572.4" stroke="#555" stroke-width="1.3"/>
<line x1="242.53" y1="574.4" x2="242.53" y2="570.4" stroke="#555" stroke-width="1.3"/>
<line x1="262.77" y1="574.4" x2="262.77" y2="572.4" stroke="#555" stroke-width="1.3"/>
<line x1="283.02" y1="574.4" x2="283.02" y2="570.4" stroke="#555" stroke-width="1.3"/>
<line x1="303.26" y1="574.4" x2="303.26" y2="572.4" stroke="#555" stroke-width="1.3"/>
<path d="M80.6,574.4 L80.6,344.5 L323.5,344.5 L323.5,574.4" fill="none" stroke="#737373" stroke-width="1.4"/>
<line x1="79.9" y1="574.4" x2="324.2" y2="574.4" stroke="#111" stroke-width="2"/>
<path d="M81,568.69 L82.5,568.69 L84,568.69 L85.5,568.69 L87,568.69 L88.5,568.69 L90,568.69 L91.5,568.69 L93,568.69 L94.5,568.69 L96,568.69 L97.5,568.69 L99,568.69 L100.5,568.69 L102,568.69 L103.5,568.69 L105,568.69 L106.5,568.69 L108,568.69 L109.5,568.69 L111,568.69 L112.5,568.69 L114,568.69 L115.5,568.69 L117,568.69 L118.5,568.69 L120,568.69 L121.5,568.69 L123,568.69 L124.5,568.69 L126,568.69 L127.5,568.69 L129,568.69 L130.5,568.69 L132,568.69 L133.5,568.69 L135,568.69 L136.5,568.69 L138,568.69 L139.5,568.69 L141,568.69 L142.5,568.69 L144,568.69 L145.5,568.69 L147,568.69 L148.5,568.69 L150,568.69 L151.5,568.69 L153,568.69 L154.5,568.69 L156,568.69 L157.5,568.69 L159,568.69 L160.5,568.69 L162,568.69 L163.5,568.69 L165,568.69 L166.5,568.69 L168,568.69 L169.5,568.69 L171,568.69 L172.5,568.7 L174,568.7 L175.5,568.7 L177,568.7 L178.5,568.7 L180,568.7 L181.5,568.7 L183,568.7 L184.5,568.7 L186,568.7 L187.5,568.71 L189,568.71 L190.5,568.71 L192,568.71 L193.5,568.71 L195,568.71 L196.5,568.72 L198,568.72 L199.5,568.72 L201,568.72 L202.5,568.73 L204,568.73 L205.5,568.73 L207,568.73 L208.5,568.74 L210,568.74 L211.5,568.75 L213,568.75 L214.5,568.76 L216,568.76 L217.5,568.77 L219,568.77 L220.5,568.78 L222,568.78 L223.5,568.79 L225,568.8 L226.5,568.81 L228,568.82 L229.5,568.83 L231,568.84 L232.5,568.85 L234,568.86 L235.5,568.87 L237,568.88 L238.5,568.9 L240,568.91 L241.5,568.93 L243,568.95 L244.5,568.96 L246,568.98 L247.5,569 L249,569.03 L250.5,569.05 L252,569.08 L253.5,569.1 L255,569.13 L256.5,569.16 L258,569.2 L259.5,569.23 L261,569.27 L262.5,569.31 L264,569.35 L265.5,569.39 L267,569.44 L268.5,569.49 L270,569.55 L271.5,569.6 L273,569.66 L274.5,569.73 L276,569.8 L277.5,569.87 L279,569.94 L280.5,570.02 L282,570.11 L283.5,570.2 L285,570.29 L286.5,570.39 L288,570.49 L289.5,570.6 L291,570.72 L292.5,570.83 L294,570.96 L295.5,571.09 L297,571.22 L298.5,571.36 L300,571.51 L301.5,571.65 L303,571.81 L304.5,571.97 L306,572.13 L307.5,572.3 L309,572.48 L310.5,572.65 L312,572.83 L313.5,573.02 L315,573.2 L316.5,573.39 L318,573.59 L319.5,573.78 L321,573.97 L322.5,574.17 L323.5,574.3" fill="none" stroke="#ff0000" stroke-width="2.6"/>
<path d="M81,553.75 L82.5,553.75 L84,553.75 L85.5,553.75 L87,553.75 L88.5,553.75 L90,553.75 L91.5,553.75 L93,553.75 L94.5,553.75 L96,553.75 L97.5,553.75 L99,553.75 L100.5,553.75 L102,553.75 L103.5,553.75 L105,553.75 L106.5,553.75 L108,553.75 L109.5,553.75 L111,553.75 L112.5,553.75 L114,553.75 L115.5,553.76 L117,553.76 L118.5,553.76 L120,553.76 L121.5,553.76 L123,553.76 L124.5,553.76 L126,553.76 L127.5,553.76 L129,553.76 L130.5,553.76 L132,553.76 L133.5,553.77 L135,553.77 L136.5,553.77 L138,553.77 L139.5,553.77 L141,553.77 L142.5,553.77 L144,553.78 L145.5,553.78 L147,553.78 L148.5,553.78 L150,553.78 L151.5,553.79 L153,553.79 L154.5,553.79 L156,553.8 L157.5,553.8 L159,553.8 L160.5,553.81 L162,553.81 L163.5,553.81 L165,553.82 L166.5,553.82 L168,553.83 L169.5,553.83 L171,553.84 L172.5,553.84 L174,553.85 L175.5,553.85 L177,553.86 L178.5,553.87 L180,553.88 L181.5,553.88 L183,553.89 L184.5,553.9 L186,553.91 L187.5,553.92 L189,553.93 L190.5,553.94 L192,553.96 L193.5,553.97 L195,553.98 L196.5,554 L198,554.01 L199.5,554.03 L201,554.05 L202.5,554.06 L204,554.08 L205.5,554.11 L207,554.13 L208.5,554.15 L210,554.18 L211.5,554.2 L213,554.23 L214.5,554.26 L216,554.29 L217.5,554.32 L219,554.36 L220.5,554.4 L222,554.44 L223.5,554.48 L225,554.52 L226.5,554.57 L228,554.62 L229.5,554.67 L231,554.73 L232.5,554.79 L234,554.85 L235.5,554.92 L237,554.99 L238.5,555.06 L240,555.14 L241.5,555.23 L243,555.32 L244.5,555.41 L246,555.51 L247.5,555.61 L249,555.72 L250.5,555.84 L252,555.96 L253.5,556.09 L255,556.23 L256.5,556.37 L258,556.52 L259.5,556.68 L261,556.85 L262.5,557.03 L264,557.21 L265.5,557.41 L267,557.61 L268.5,557.83 L270,558.06 L271.5,558.29 L273,558.54 L274.5,558.8 L276,559.08 L277.5,559.36 L279,559.66 L280.5,559.97 L282,560.3 L283.5,560.63 L285,560.98 L286.5,561.35 L288,561.73 L289.5,562.12 L291,562.53 L292.5,562.95 L294,563.39 L295.5,563.84 L297,564.31 L298.5,564.79 L300,565.28 L301.5,565.78 L303,566.3 L304.5,566.83 L306,567.37 L307.5,567.93 L309,568.49 L310.5,569.06 L312,569.65 L313.5,570.24 L315,570.83 L316.5,571.44 L318,572.04 L319.5,572.66 L321,573.27 L322.5,573.89 L323.5,574.3" fill="none" stroke="#0000ff" stroke-width="2.6"/>
<path d="M81,527.75 L82.5,527.75 L84,527.76 L85.5,527.76 L87,527.76 L88.5,527.77 L90,527.77 L91.5,527.78 L93,527.79 L94.5,527.79 L96,527.8 L97.5,527.8 L99,527.81 L100.5,527.82 L102,527.82 L103.5,527.83 L105,527.84 L106.5,527.85 L108,527.85 L109.5,527.86 L111,527.87 L112.5,527.88 L114,527.89 L115.5,527.9 L117,527.91 L118.5,527.92 L120,527.94 L121.5,527.95 L123,527.96 L124.5,527.97 L126,527.99 L127.5,528 L129,528.02 L130.5,528.03 L132,528.05 L133.5,528.07 L135,528.09 L136.5,528.1 L138,528.12 L139.5,528.14 L141,528.17 L142.5,528.19 L144,528.21 L145.5,528.24 L147,528.26 L148.5,528.29 L150,528.31 L151.5,528.34 L153,528.37 L154.5,528.4 L156,528.44 L157.5,528.47 L159,528.51 L160.5,528.54 L162,528.58 L163.5,528.62 L165,528.66 L166.5,528.71 L168,528.75 L169.5,528.8 L171,528.85 L172.5,528.9 L174,528.95 L175.5,529.01 L177,529.07 L178.5,529.13 L180,529.19 L181.5,529.26 L183,529.33 L184.5,529.4 L186,529.47 L187.5,529.55 L189,529.63 L190.5,529.72 L192,529.8 L193.5,529.9 L195,529.99 L196.5,530.09 L198,530.19 L199.5,530.3 L201,530.41 L202.5,530.53 L204,530.65 L205.5,530.78 L207,530.91 L208.5,531.05 L210,531.19 L211.5,531.34 L213,531.49 L214.5,531.65 L216,531.82 L217.5,531.99 L219,532.17 L220.5,532.36 L222,532.56 L223.5,532.76 L225,532.97 L226.5,533.19 L228,533.41 L229.5,533.65 L231,533.89 L232.5,534.15 L234,534.41 L235.5,534.68 L237,534.97 L238.5,535.26 L240,535.56 L241.5,535.88 L243,536.2 L244.5,536.54 L246,536.89 L247.5,537.25 L249,537.63 L250.5,538.02 L252,538.42 L253.5,538.83 L255,539.26 L256.5,539.7 L258,540.15 L259.5,540.62 L261,541.11 L262.5,541.61 L264,542.12 L265.5,542.65 L267,543.2 L268.5,543.76 L270,544.34 L271.5,544.93 L273,545.54 L274.5,546.17 L276,546.81 L277.5,547.47 L279,548.14 L280.5,548.83 L282,549.54 L283.5,550.27 L285,551.01 L286.5,551.76 L288,552.53 L289.5,553.32 L291,554.12 L292.5,554.94 L294,555.77 L295.5,556.62 L297,557.48 L298.5,558.36 L300,559.24 L301.5,560.14 L303,561.05 L304.5,561.97 L306,562.91 L307.5,563.85 L309,564.8 L310.5,565.76 L312,566.73 L313.5,567.7 L315,568.68 L316.5,569.66 L318,570.65 L319.5,571.64 L321,572.64 L322.5,573.64 L323.5,574.3" fill="none" stroke="#ff00ff" stroke-width="2.6"/>
<path d="M81,491.44 L82.5,491.47 L84,491.49 L85.5,491.52 L87,491.55 L88.5,491.58 L90,491.61 L91.5,491.64 L93,491.67 L94.5,491.71 L96,491.74 L97.5,491.78 L99,491.82 L100.5,491.85 L102,491.89 L103.5,491.93 L105,491.98 L106.5,492.02 L108,492.07 L109.5,492.11 L111,492.16 L112.5,492.21 L114,492.26 L115.5,492.32 L117,492.37 L118.5,492.43 L120,492.49 L121.5,492.55 L123,492.61 L124.5,492.67 L126,492.74 L127.5,492.81 L129,492.88 L130.5,492.96 L132,493.03 L133.5,493.11 L135,493.19 L136.5,493.28 L138,493.36 L139.5,493.45 L141,493.54 L142.5,493.64 L144,493.74 L145.5,493.84 L147,493.94 L148.5,494.05 L150,494.16 L151.5,494.28 L153,494.4 L154.5,494.52 L156,494.65 L157.5,494.78 L159,494.92 L160.5,495.06 L162,495.2 L163.5,495.35 L165,495.5 L166.5,495.66 L168,495.83 L169.5,495.99 L171,496.17 L172.5,496.35 L174,496.53 L175.5,496.72 L177,496.92 L178.5,497.12 L180,497.33 L181.5,497.55 L183,497.77 L184.5,498 L186,498.24 L187.5,498.48 L189,498.73 L190.5,498.99 L192,499.26 L193.5,499.54 L195,499.82 L196.5,500.11 L198,500.41 L199.5,500.72 L201,501.04 L202.5,501.37 L204,501.71 L205.5,502.05 L207,502.41 L208.5,502.78 L210,503.16 L211.5,503.55 L213,503.95 L214.5,504.36 L216,504.79 L217.5,505.22 L219,505.67 L220.5,506.13 L222,506.61 L223.5,507.09 L225,507.59 L226.5,508.1 L228,508.63 L229.5,509.17 L231,509.72 L232.5,510.29 L234,510.88 L235.5,511.47 L237,512.09 L238.5,512.72 L240,513.36 L241.5,514.02 L243,514.7 L244.5,515.39 L246,516.1 L247.5,516.83 L249,517.57 L250.5,518.33 L252,519.1 L253.5,519.9 L255,520.71 L256.5,521.54 L258,522.38 L259.5,523.25 L261,524.13 L262.5,525.03 L264,525.94 L265.5,526.88 L267,527.83 L268.5,528.8 L270,529.79 L271.5,530.8 L273,531.82 L274.5,532.86 L276,533.92 L277.5,534.99 L279,536.09 L280.5,537.2 L282,538.32 L283.5,539.46 L285,540.62 L286.5,541.79 L288,542.98 L289.5,544.18 L291,545.4 L292.5,546.63 L294,547.88 L295.5,549.14 L297,550.41 L298.5,551.69 L300,552.99 L301.5,554.29 L303,555.61 L304.5,556.94 L306,558.27 L307.5,559.62 L309,560.97 L310.5,562.33 L312,563.69 L313.5,565.06 L315,566.44 L316.5,567.82 L318,569.21 L319.5,570.59 L321,571.98 L322.5,573.37 L323.5,574.3" fill="none" stroke="#008000" stroke-width="3.0"/>
<path d="M81,447.07 L82.5,447.14 L84,447.2 L85.5,447.28 L87,447.35 L88.5,447.42 L90,447.5 L91.5,447.58 L93,447.67 L94.5,447.75 L96,447.84 L97.5,447.94 L99,448.03 L100.5,448.13 L102,448.23 L103.5,448.34 L105,448.45 L106.5,448.56 L108,448.68 L109.5,448.8 L111,448.92 L112.5,449.05 L114,449.18 L115.5,449.32 L117,449.46 L118.5,449.6 L120,449.75 L121.5,449.9 L123,450.07 L124.5,450.24 L126,450.41 L127.5,450.59 L129,450.78 L130.5,450.97 L132,451.16 L133.5,451.37 L135,451.57 L136.5,451.78 L138,452 L139.5,452.23 L141,452.46 L142.5,452.69 L144,452.93 L145.5,453.18 L147,453.44 L148.5,453.7 L150,453.97 L151.5,454.25 L153,454.53 L154.5,454.82 L156,455.12 L157.5,455.43 L159,455.74 L160.5,456.06 L162,456.4 L163.5,456.75 L165,457.11 L166.5,457.48 L168,457.86 L169.5,458.25 L171,458.65 L172.5,459.05 L174,459.47 L175.5,459.9 L177,460.33 L178.5,460.78 L180,461.24 L181.5,461.7 L183,462.18 L184.5,462.67 L186,463.17 L187.5,463.69 L189,464.21 L190.5,464.75 L192,465.29 L193.5,465.85 L195,466.43 L196.5,467.01 L198,467.61 L199.5,468.22 L201,468.85 L202.5,469.51 L204,470.22 L205.5,470.94 L207,471.68 L208.5,472.44 L210,473.21 L211.5,473.99 L213,474.79 L214.5,475.6 L216,476.43 L217.5,477.26 L219,478.1 L220.5,478.96 L222,479.83 L223.5,480.72 L225,481.62 L226.5,482.54 L228,483.48 L229.5,484.44 L231,485.41 L232.5,486.4 L234,487.4 L235.5,488.42 L237,489.46 L238.5,490.52 L240,491.6 L241.5,492.69 L243,493.8 L244.5,494.91 L246,496.04 L247.5,497.18 L249,498.34 L250.5,499.52 L252,500.72 L253.5,501.94 L255,503.17 L256.5,504.42 L258,505.69 L259.5,506.98 L261,508.28 L262.5,509.6 L264,510.94 L265.5,512.29 L267,513.67 L268.5,515.05 L270,516.46 L271.5,517.88 L273,519.32 L274.5,520.77 L276,522.24 L277.5,523.73 L279,525.23 L280.5,526.75 L282,528.28 L283.5,529.82 L285,531.36 L286.5,532.92 L288,534.49 L289.5,536.07 L291,537.66 L292.5,539.27 L294,540.89 L295.5,542.52 L297,544.16 L298.5,545.81 L300,547.47 L301.5,549.14 L303,550.81 L304.5,552.5 L306,554.19 L307.5,555.89 L309,557.6 L310.5,559.31 L312,561.03 L313.5,562.75 L315,564.47 L316.5,566.2 L318,567.93 L319.5,569.67 L321,571.4 L322.5,573.14 L323.5,574.3" fill="none" stroke="#000080" stroke-width="1.9"/>
<path d="M81,447.07 L82.5,447.19 L84,447.32 L85.5,447.44 L87,447.57 L88.5,447.7 L90,447.84 L91.5,447.97 L93,448.11 L94.5,448.26 L96,448.4 L97.5,448.55 L99,448.7 L100.5,448.86 L102,449.01 L103.5,449.18 L105,449.34 L106.5,449.51 L108,449.68 L109.5,449.86 L111,450.04 L112.5,450.22 L114,450.41 L115.5,450.6 L117,450.8 L118.5,451 L120,451.2 L121.5,451.41 L123,451.62 L124.5,451.83 L126,452.04 L127.5,452.26 L129,452.49 L130.5,452.72 L132,452.96 L133.5,453.2 L135,453.45 L136.5,453.7 L138,453.96 L139.5,454.22 L141,454.49 L142.5,454.77 L144,455.06 L145.5,455.35 L147,455.64 L148.5,455.95 L150,456.26 L151.5,456.57 L153,456.9 L154.5,457.23 L156,457.57 L157.5,457.92 L159,458.27 L160.5,458.64 L162,459 L163.5,459.37 L165,459.75 L166.5,460.13 L168,460.53 L169.5,460.93 L171,461.34 L172.5,461.76 L174,462.19 L175.5,462.63 L177,463.09 L178.5,463.55 L180,464.02 L181.5,464.5 L183,465 L184.5,465.5 L186,466.02 L187.5,466.54 L189,467.08 L190.5,467.63 L192,468.2 L193.5,468.77 L195,469.36 L196.5,469.96 L198,470.57 L199.5,471.2 L201,471.84 L202.5,472.47 L204,473.08 L205.5,473.7 L207,474.33 L208.5,474.98 L210,475.65 L211.5,476.32 L213,477.02 L214.5,477.73 L216,478.45 L217.5,479.2 L219,479.98 L220.5,480.77 L222,481.57 L223.5,482.39 L225,483.23 L226.5,484.09 L228,484.96 L229.5,485.84 L231,486.75 L232.5,487.67 L234,488.61 L235.5,489.56 L237,490.53 L238.5,491.52 L240,492.53 L241.5,493.56 L243,494.6 L244.5,495.68 L246,496.78 L247.5,497.89 L249,499.02 L250.5,500.17 L252,501.34 L253.5,502.53 L255,503.73 L256.5,504.95 L258,506.19 L259.5,507.45 L261,508.72 L262.5,510.01 L264,511.32 L265.5,512.64 L267,513.99 L268.5,515.34 L270,516.72 L271.5,518.11 L273,519.52 L274.5,520.94 L276,522.38 L277.5,523.84 L279,525.31 L280.5,526.8 L282,528.3 L283.5,529.82 L285,531.36 L286.5,532.92 L288,534.49 L289.5,536.07 L291,537.66 L292.5,539.27 L294,540.89 L295.5,542.52 L297,544.16 L298.5,545.81 L300,547.47 L301.5,549.14 L303,550.81 L304.5,552.5 L306,554.19 L307.5,555.89 L309,557.6 L310.5,559.31 L312,561.03 L313.5,562.75 L315,564.47 L316.5,566.2 L318,567.93 L319.5,569.67 L321,571.4 L322.5,573.14 L323.5,574.3" fill="none" stroke="#000080" stroke-width="1.9"/>
<path d="M81,400.18 L82.5,400.34 L84,400.51 L85.5,400.68 L87,400.86 L88.5,401.04 L90,401.23 L91.5,401.42 L93,401.61 L94.5,401.82 L96,402.02 L97.5,402.24 L99,402.46 L100.5,402.68 L102,402.94 L103.5,403.21 L105,403.48 L106.5,403.77 L108,404.06 L109.5,404.35 L111,404.66 L112.5,404.96 L114,405.28 L115.5,405.6 L117,405.93 L118.5,406.27 L120,406.62 L121.5,406.97 L123,407.34 L124.5,407.72 L126,408.11 L127.5,408.5 L129,408.91 L130.5,409.32 L132,409.74 L133.5,410.17 L135,410.61 L136.5,411.05 L138,411.51 L139.5,411.97 L141,412.45 L142.5,412.93 L144,413.42 L145.5,413.93 L147,414.44 L148.5,414.96 L150,415.49 L151.5,416.03 L153,416.59 L154.5,417.15 L156,417.72 L157.5,418.31 L159,418.91 L160.5,419.51 L162,420.14 L163.5,420.78 L165,421.43 L166.5,422.1 L168,422.78 L169.5,423.47 L171,424.17 L172.5,424.89 L174,425.61 L175.5,426.35 L177,427.11 L178.5,427.88 L180,428.66 L181.5,429.45 L183,430.26 L184.5,431.08 L186,431.91 L187.5,432.76 L189,433.62 L190.5,434.5 L192,435.39 L193.5,436.3 L195,437.22 L196.5,438.19 L198,439.17 L199.5,440.16 L201,441.17 L202.5,442.2 L204,443.24 L205.5,444.3 L207,445.37 L208.5,446.46 L210,447.57 L211.5,448.69 L213,449.83 L214.5,450.98 L216,452.15 L217.5,453.35 L219,454.58 L220.5,455.82 L222,457.08 L223.5,458.36 L225,459.65 L226.5,460.96 L228,462.29 L229.5,463.63 L231,464.99 L232.5,466.37 L234,467.76 L235.5,469.17 L237,470.6 L238.5,472.05 L240,473.51 L241.5,474.99 L243,476.48 L244.5,477.97 L246,479.47 L247.5,480.99 L249,482.53 L250.5,484.08 L252,485.65 L253.5,487.23 L255,488.83 L256.5,490.45 L258,492.08 L259.5,493.73 L261,495.39 L262.5,497.07 L264,498.77 L265.5,500.48 L267,502.2 L268.5,503.94 L270,505.69 L271.5,507.44 L273,509.21 L274.5,510.98 L276,512.77 L277.5,514.58 L279,516.39 L280.5,518.22 L282,520.06 L283.5,521.91 L285,523.78 L286.5,525.65 L288,527.54 L289.5,529.44 L291,531.34 L292.5,533.26 L294,535.18 L295.5,537.12 L297,539.06 L298.5,541.01 L300,542.97 L301.5,544.93 L303,546.9 L304.5,548.88 L306,550.87 L307.5,552.86 L309,554.85 L310.5,556.85 L312,558.85 L313.5,560.86 L315,562.87 L316.5,564.88 L318,566.9 L319.5,568.92 L321,570.93 L322.5,572.95 L323.5,574.3" fill="none" stroke="#8000ff" stroke-width="1.9"/>
<path d="M81,400.18 L82.5,400.47 L84,400.76 L85.5,401.06 L87,401.37 L88.5,401.68 L90,401.99 L91.5,402.31 L93,402.63 L94.5,402.96 L96,403.3 L97.5,403.64 L99,403.99 L100.5,404.34 L102,404.68 L103.5,405.01 L105,405.34 L106.5,405.68 L108,406.03 L109.5,406.39 L111,406.75 L112.5,407.12 L114,407.49 L115.5,407.88 L117,408.26 L118.5,408.66 L120,409.06 L121.5,409.47 L123,409.88 L124.5,410.29 L126,410.71 L127.5,411.14 L129,411.58 L130.5,412.03 L132,412.48 L133.5,412.94 L135,413.41 L136.5,413.89 L138,414.38 L139.5,414.88 L141,415.39 L142.5,415.91 L144,416.43 L145.5,416.97 L147,417.51 L148.5,418.07 L150,418.63 L151.5,419.21 L153,419.8 L154.5,420.39 L156,421 L157.5,421.62 L159,422.25 L160.5,422.89 L162,423.54 L163.5,424.19 L165,424.85 L166.5,425.53 L168,426.22 L169.5,426.92 L171,427.63 L172.5,428.35 L174,429.09 L175.5,429.84 L177,430.6 L178.5,431.38 L180,432.17 L181.5,432.97 L183,433.78 L184.5,434.61 L186,435.46 L187.5,436.32 L189,437.19 L190.5,438.07 L192,438.98 L193.5,439.89 L195,440.82 L196.5,441.74 L198,442.67 L199.5,443.61 L201,444.58 L202.5,445.55 L204,446.55 L205.5,447.55 L207,448.58 L208.5,449.62 L210,450.67 L211.5,451.75 L213,452.83 L214.5,453.94 L216,455.06 L217.5,456.18 L219,457.31 L220.5,458.46 L222,459.62 L223.5,460.8 L225,462 L226.5,463.21 L228,464.44 L229.5,465.69 L231,466.96 L232.5,468.24 L234,469.54 L235.5,470.85 L237,472.18 L238.5,473.53 L240,474.9 L241.5,476.28 L243,477.68 L244.5,479.12 L246,480.58 L247.5,482.06 L249,483.55 L250.5,485.06 L252,486.58 L253.5,488.12 L255,489.68 L256.5,491.25 L258,492.84 L259.5,494.44 L261,496.06 L262.5,497.7 L264,499.35 L265.5,501.01 L267,502.69 L268.5,504.38 L270,506.09 L271.5,507.83 L273,509.58 L274.5,511.35 L276,513.13 L277.5,514.92 L279,516.73 L280.5,518.54 L282,520.37 L283.5,522.21 L285,524.07 L286.5,525.93 L288,527.81 L289.5,529.69 L291,531.58 L292.5,533.49 L294,535.4 L295.5,537.33 L297,539.26 L298.5,541.2 L300,543.14 L301.5,545.1 L303,547.06 L304.5,549.02 L306,551 L307.5,552.98 L309,554.96 L310.5,556.95 L312,558.94 L313.5,560.94 L315,562.94 L316.5,564.94 L318,566.94 L319.5,568.95 L321,570.95 L322.5,572.96 L323.5,574.3" fill="none" stroke="#8000ff" stroke-width="1.9"/>
<text id="c_yt_20" transform="translate(74.81,350.34) scale(1.0158,1)" font-family="Liberation Sans, sans-serif" font-weight="bold" font-size="17.5" fill="#000" text-anchor="end">2.0</text>
<text id="c_yt_15" transform="translate(74.85,408.62) scale(1.0237,1)" font-family="Liberation Sans, sans-serif" font-weight="bold" font-size="17.5" fill="#000" text-anchor="end">1.5</text>
<text id="c_yt_10" transform="translate(74.86,466.57) scale(1.0245,1)" font-family="Liberation Sans, sans-serif" font-weight="bold" font-size="17.5" fill="#000" text-anchor="end">1.0</text>
<text id="c_yt_5" transform="translate(74.91,524.2) scale(1.0058,1)" font-family="Liberation Sans, sans-serif" font-weight="bold" font-size="17.5" fill="#000" text-anchor="end">0.5</text>
<text id="c_yt_0" transform="translate(75.41,581.04) scale(1.0382,1)" font-family="Liberation Sans, sans-serif" font-weight="bold" font-size="17.5" fill="#000" text-anchor="end">0.0</text>
<text id="c_xt_30" transform="translate(80.1,594.16) scale(1.0763,1)" font-family="Liberation Sans, sans-serif" font-weight="bold" font-size="16.5" fill="#000" text-anchor="middle">-3.0</text>
<text id="c_xt_25" transform="translate(120.84,594.16) scale(1.0681,1)" font-family="Liberation Sans, sans-serif" font-weight="bold" font-size="16.5" fill="#000" text-anchor="middle">-2.5</text>
<text id="c_xt_20" transform="translate(160.99,594.16) scale(1.0754,1)" font-family="Liberation Sans, sans-serif" font-weight="bold" font-size="16.5" fill="#000" text-anchor="middle">-2.0</text>
<text id="c_xt_15" transform="translate(201.28,594.16) scale(1.0663,1)" font-family="Liberation Sans, sans-serif" font-weight="bold" font-size="16.5" fill="#000" text-anchor="middle">-1.5</text>
<text id="c_xt_10" transform="translate(241.83,594.16) scale(1.0728,1)" font-family="Liberation Sans, sans-serif" font-weight="bold" font-size="16.5" fill="#000" text-anchor="middle">-1.0</text>
<text id="c_xt_5" transform="translate(283.38,594.16) scale(1.0706,1)" font-family="Liberation Sans, sans-serif" font-weight="bold" font-size="16.5" fill="#000" text-anchor="middle">-0.5</text>
<text id="c_xt_0" transform="translate(322.87,594.16) scale(1.0204,1)" font-family="Liberation Sans, sans-serif" font-weight="bold" font-size="16.5" fill="#000" text-anchor="middle">0.0</text>
<text id="c_xl" transform="translate(69.57,624.32) scale(1.0593,1)" font-family="Liberation Sans, sans-serif" font-weight="bold" font-size="25.4" fill="#000">Drain Voltage, V<tspan dy="5" font-size="14">DS</tspan><tspan dy="-5"> [V]</tspan></text>
<text id="c_yl" transform="translate(40.32,576.59) rotate(-90) scale(0.9261,1)" font-family="Liberation Sans, sans-serif" font-weight="bold" font-size="24.4" fill="#000">Drain Current, I<tspan dy="5" font-size="14">DS</tspan><tspan dy="-5"> [</tspan><tspan font-family="Liberation Serif, serif" font-weight="normal">μ</tspan>A]</text>
<text id="c_lbl" transform="translate(4.26,321.27) scale(1.0330,1)" font-family="Liberation Serif, serif" font-weight="bold" font-size="27" fill="#000">(c)</text>
<text id="c_t1" transform="translate(178.47,361.4) scale(1.0071,1)" font-family="Liberation Sans, sans-serif" font-weight="bold" font-size="15" fill="#000">SnO TFT (L30W150)</text>
<text id="c_v1" transform="translate(85.78,393.2) scale(0.9799,1)" font-family="Liberation Sans, sans-serif" font-weight="bold" font-size="14.6" fill="#8000ff" stroke="#8000ff" stroke-width="0.25">V<tspan dy="3.4" font-size="9.49">GS</tspan><tspan dy="-3.4"> = -3.0 V</tspan></text>
<text id="c_v2" transform="translate(85.33,440.84) scale(0.9836,1)" font-family="Liberation Sans, sans-serif" font-weight="bold" font-size="14.6" fill="#000080" stroke="#000080" stroke-width="0.25">V<tspan dy="3.4" font-size="9.49">GS</tspan><tspan dy="-3.4"> = -2.5 V</tspan></text>
<text id="c_v3" transform="translate(85.79,484.78) scale(0.9826,1)" font-family="Liberation Sans, sans-serif" font-weight="bold" font-size="14.6" fill="#008000" stroke="#008000" stroke-width="0.25">V<tspan dy="3.4" font-size="9.49">GS</tspan><tspan dy="-3.4"> = -2.0 V</tspan></text>
<text id="c_v4" transform="translate(85.61,520.66) scale(0.9888,1)" font-family="Liberation Sans, sans-serif" font-weight="bold" font-size="14.6" fill="#ff00ff" stroke="#ff00ff" stroke-width="0.25">V<tspan dy="3.4" font-size="9.49">GS</tspan><tspan dy="-3.4"> = -1.5 V</tspan></text>
<text id="c_v5" transform="translate(85.36,548.08) scale(0.9862,1)" font-family="Liberation Sans, sans-serif" font-weight="bold" font-size="14.6" fill="#0000ff" stroke="#0000ff" stroke-width="0.25">V<tspan dy="3.4" font-size="9.49">GS</tspan><tspan dy="-3.4"> = -1.0 V</tspan></text>
<text id="c_v6" transform="translate(86.97,566.54) scale(0.9335,1)" font-family="Liberation Sans, sans-serif" font-weight="bold" font-size="14.6" fill="#ff0000" stroke="#ff0000" stroke-width="0.25">V<tspan dy="3.4" font-size="9.49">GS</tspan><tspan dy="-3.4"> = -0.5 V</tspan></text>
<line x1="464.17" y1="345.5" x2="464.17" y2="579.7" stroke="#e9e9e9" stroke-width="1.5"/>
<line x1="505.83" y1="345.5" x2="505.83" y2="579.7" stroke="#e9e9e9" stroke-width="1.5"/>
<line x1="547.5" y1="345.5" x2="547.5" y2="579.7" stroke="#e9e9e9" stroke-width="1.5"/>
<line x1="589.17" y1="345.5" x2="589.17" y2="579.7" stroke="#e9e9e9" stroke-width="1.5"/>
<line x1="630.83" y1="345.5" x2="630.83" y2="579.7" stroke="#e9e9e9" stroke-width="1.5"/>
<line x1="422.5" y1="500.3" x2="672.5" y2="500.3" stroke="#e9e9e9" stroke-width="1.5"/>
<line x1="422.5" y1="422.9" x2="672.5" y2="422.9" stroke="#e9e9e9" stroke-width="1.5"/>
<line x1="422.5" y1="539" x2="424.7" y2="539" stroke="#555" stroke-width="1.3"/>
<line x1="422.5" y1="500.3" x2="427" y2="500.3" stroke="#555" stroke-width="1.3"/>
<line x1="422.5" y1="461.6" x2="424.7" y2="461.6" stroke="#555" stroke-width="1.3"/>
<line x1="422.5" y1="422.9" x2="427" y2="422.9" stroke="#555" stroke-width="1.3"/>
<line x1="422.5" y1="384.2" x2="424.7" y2="384.2" stroke="#555" stroke-width="1.3"/>
<line x1="443.33" y1="579.7" x2="443.33" y2="576.7" stroke="#555" stroke-width="1.3"/>
<line x1="464.17" y1="579.7" x2="464.17" y2="576.7" stroke="#555" stroke-width="1.3"/>
<line x1="485" y1="579.7" x2="485" y2="576.7" stroke="#555" stroke-width="1.3"/>
<line x1="505.83" y1="579.7" x2="505.83" y2="576.7" stroke="#555" stroke-width="1.3"/>
<line x1="526.67" y1="579.7" x2="526.67" y2="576.7" stroke="#555" stroke-width="1.3"/>
<line x1="547.5" y1="579.7" x2="547.5" y2="576.7" stroke="#555" stroke-width="1.3"/>
<line x1="568.33" y1="579.7" x2="568.33" y2="576.7" stroke="#555" stroke-width="1.3"/>
<line x1="589.17" y1="579.7" x2="589.17" y2="576.7" stroke="#555" stroke-width="1.3"/>
<line x1="610" y1="579.7" x2="610" y2="576.7" stroke="#555" stroke-width="1.3"/>
<line x1="630.83" y1="579.7" x2="630.83" y2="576.7" stroke="#555" stroke-width="1.3"/>
<line x1="651.67" y1="579.7" x2="651.67" y2="576.7" stroke="#555" stroke-width="1.3"/>
<rect x="422.5" y="345.5" width="250" height="234.2" fill="none" stroke="#737373" stroke-width="1.4"/>
<path d="M422.6,578 L423.35,577.82 L424.1,577.67 L424.85,577.54 L425.6,577.45 L426.35,577.39 L427.1,577.35 L427.85,577.32 L428.6,577.3 L429.35,577.29 L430.1,577.28 L430.85,577.27 L431.6,577.27 L432.35,577.26 L433.1,577.26 L433.85,577.25 L434.6,577.25 L435.35,577.24 L436.1,577.24 L436.85,577.23 L437.6,577.23 L438.35,577.22 L439.1,577.22 L439.85,577.21 L440.6,577.21 L441.35,577.2 L442.1,577.2 L442.85,577.19 L443.6,577.19 L444.35,577.18 L445.1,577.18 L445.85,577.17 L446.6,577.17 L447.35,577.16 L448.1,577.16 L448.85,577.15 L449.6,577.15 L450.35,577.15 L451.1,577.14 L451.85,577.14 L452.6,577.13 L453.6,577.13 L455.1,577.12 L456.6,577.11 L458.1,577.1 L459.6,577.09 L461.1,577.08 L462.6,577.08 L464.1,577.07 L465.6,577.06 L467.1,577.05 L468.6,577.04 L470.1,577.04 L471.6,577.03 L473.1,577.02 L474.6,577.02 L476.1,577.01 L477.6,577 L479.1,577 L480.6,576.99 L482.1,576.98 L483.6,576.98 L485.1,576.97 L486.6,576.97 L488.1,576.96 L489.6,576.95 L491.1,576.95 L492.6,576.94 L494.1,576.94 L495.6,576.93 L497.1,576.93 L498.6,576.92 L500.1,576.92 L501.6,576.91 L503.1,576.91 L504.6,576.9 L506.1,576.9 L507.6,576.89 L509.1,576.89 L510.6,576.89 L512.1,576.88 L513.6,576.88 L515.1,576.87 L516.6,576.87 L518.1,576.86 L519.6,576.86 L521.1,576.86 L522.6,576.85 L524.1,576.85 L525.6,576.85 L527.1,576.84 L528.6,576.84 L530.1,576.84 L531.6,576.83 L533.1,576.83 L534.6,576.83 L536.1,576.82 L537.6,576.82 L539.1,576.82 L540.6,576.81 L542.1,576.81 L543.6,576.81 L545.1,576.8 L546.6,576.8 L548.1,576.8 L549.6,576.8 L551.1,576.79 L552.6,576.79 L554.1,576.79 L555.6,576.79 L557.1,576.78 L558.6,576.78 L560.1,576.78 L561.6,576.78 L563.1,576.78 L564.6,576.77 L566.1,576.77 L567.6,576.77 L569.1,576.77 L570.6,576.77 L572.1,576.77 L573.6,576.76 L575.1,576.76 L576.6,576.76 L578.1,576.76 L579.6,576.76 L581.1,576.76 L582.6,576.76 L584.1,576.76 L585.6,576.75 L587.1,576.75 L588.6,576.75 L590.1,576.75 L591.6,576.75 L593.1,576.75 L594.6,576.75 L596.1,576.75 L597.6,576.75 L599.1,576.75 L600.6,576.75 L602.1,576.75 L603.6,576.75 L605.1,576.75 L606.6,576.75 L608.1,576.75 L609.6,576.75 L611.1,576.75 L612.6,576.75 L614.1,576.76 L615.6,576.76 L617.1,576.76 L618.6,576.76 L620.1,576.76 L621.6,576.76 L623.1,576.76 L624.6,576.77 L626.1,576.77 L627.6,576.77 L629.1,576.77 L630.6,576.77 L632.1,576.78 L633.6,576.78 L635.1,576.78 L636.6,576.79 L638.1,576.79 L639.6,576.79 L641.1,576.79 L642.6,576.8 L644.1,576.8 L645.6,576.81 L647.1,576.81 L648.6,576.81 L650.1,576.82 L651.6,576.82 L653.1,576.83 L654.6,576.83 L656.1,576.84 L657.6,576.84 L659.1,576.85 L660.6,576.85 L662.1,576.86 L663.6,576.86 L665.1,576.87 L666.6,576.87 L668.1,576.88 L669.6,576.89 L671.1,576.89 L672.5,576.9" fill="none" stroke="#0000ff" stroke-width="2.9"/>
<path d="M422.6,578 L423.35,577.37 L424.1,576.8 L424.85,576.35 L425.6,576.02 L426.35,575.79 L427.1,575.63 L427.85,575.51 L428.6,575.43 L429.35,575.37 L430.1,575.32 L430.85,575.28 L431.6,575.24 L432.35,575.21 L433.1,575.17 L433.85,575.14 L434.6,575.11 L435.35,575.08 L436.1,575.04 L436.85,575.01 L437.6,574.98 L438.35,574.95 L439.1,574.92 L439.85,574.89 L440.6,574.86 L441.35,574.83 L442.1,574.8 L442.85,574.76 L443.6,574.73 L444.35,574.7 L445.1,574.67 L445.85,574.64 L446.6,574.61 L447.35,574.58 L448.1,574.55 L448.85,574.52 L449.6,574.49 L450.35,574.46 L451.1,574.44 L451.85,574.41 L452.6,574.38 L453.6,574.34 L455.1,574.28 L456.6,574.23 L458.1,574.17 L459.6,574.12 L461.1,574.06 L462.6,574.01 L464.1,573.96 L465.6,573.91 L467.1,573.86 L468.6,573.81 L470.1,573.76 L471.6,573.71 L473.1,573.67 L474.6,573.62 L476.1,573.58 L477.6,573.53 L479.1,573.49 L480.6,573.45 L482.1,573.41 L483.6,573.37 L485.1,573.33 L486.6,573.29 L488.1,573.25 L489.6,573.21 L491.1,573.18 L492.6,573.14 L494.1,573.11 L495.6,573.07 L497.1,573.04 L498.6,573.01 L500.1,572.97 L501.6,572.94 L503.1,572.91 L504.6,572.88 L506.1,572.85 L507.6,572.82 L509.1,572.79 L510.6,572.76 L512.1,572.73 L513.6,572.71 L515.1,572.68 L516.6,572.65 L518.1,572.63 L519.6,572.6 L521.1,572.58 L522.6,572.55 L524.1,572.53 L525.6,572.5 L527.1,572.48 L528.6,572.46 L530.1,572.43 L531.6,572.41 L533.1,572.39 L534.6,572.37 L536.1,572.35 L537.6,572.33 L539.1,572.31 L540.6,572.29 L542.1,572.27 L543.6,572.25 L545.1,572.23 L546.6,572.21 L548.1,572.2 L549.6,572.18 L551.1,572.16 L552.6,572.15 L554.1,572.13 L555.6,572.12 L557.1,572.1 L558.6,572.09 L560.1,572.07 L561.6,572.06 L563.1,572.05 L564.6,572.03 L566.1,572.02 L567.6,572.01 L569.1,572 L570.6,571.99 L572.1,571.98 L573.6,571.97 L575.1,571.96 L576.6,571.95 L578.1,571.94 L579.6,571.93 L581.1,571.93 L582.6,571.92 L584.1,571.91 L585.6,571.91 L587.1,571.9 L588.6,571.9 L590.1,571.9 L591.6,571.89 L593.1,571.89 L594.6,571.89 L596.1,571.89 L597.6,571.89 L599.1,571.89 L600.6,571.89 L602.1,571.89 L603.6,571.89 L605.1,571.89 L606.6,571.9 L608.1,571.9 L609.6,571.9 L611.1,571.91 L612.6,571.92 L614.1,571.92 L615.6,571.93 L617.1,571.94 L618.6,571.95 L620.1,571.96 L621.6,571.97 L623.1,571.98 L624.6,572 L626.1,572.01 L627.6,572.02 L629.1,572.04 L630.6,572.05 L632.1,572.07 L633.6,572.09 L635.1,572.11 L636.6,572.13 L638.1,572.15 L639.6,572.17 L641.1,572.19 L642.6,572.22 L644.1,572.24 L645.6,572.27 L647.1,572.29 L648.6,572.32 L650.1,572.35 L651.6,572.38 L653.1,572.41 L654.6,572.44 L656.1,572.47 L657.6,572.51 L659.1,572.54 L660.6,572.58 L662.1,572.61 L663.6,572.65 L665.1,572.69 L666.6,572.73 L668.1,572.77 L669.6,572.81 L671.1,572.86 L672.5,572.9" fill="none" stroke="#ff00ff" stroke-width="2.9"/>
<path d="M422.6,578 L423.35,577.41 L424.1,576.82 L424.85,576.24 L425.6,575.65 L426.35,575.07 L427.1,574.49 L427.85,573.92 L428.6,573.34 L429.35,572.78 L430.1,572.22 L430.85,571.67 L431.6,571.12 L432.35,570.58 L433.1,570.05 L433.85,569.53 L434.6,569.02 L435.35,568.51 L436.1,568.02 L436.85,567.53 L437.6,567.06 L438.35,566.59 L439.1,566.14 L439.85,565.7 L440.6,565.26 L441.35,564.84 L442.1,564.43 L442.85,564.03 L443.6,563.64 L444.35,563.26 L445.1,562.89 L445.85,562.54 L446.6,562.19 L447.35,561.86 L448.1,561.53 L448.85,561.22 L449.6,560.92 L450.35,560.62 L451.1,560.34 L451.85,560.06 L452.6,559.8 L453.6,559.46 L455.1,558.99 L456.6,558.55 L458.1,558.14 L459.6,557.76 L461.1,557.41 L462.6,557.09 L464.1,556.8 L465.6,556.52 L467.1,556.28 L468.6,556.05 L470.1,555.84 L471.6,555.65 L473.1,555.47 L474.6,555.31 L476.1,555.17 L477.6,555.03 L479.1,554.91 L480.6,554.8 L482.1,554.7 L483.6,554.61 L485.1,554.53 L486.6,554.45 L488.1,554.38 L489.6,554.32 L491.1,554.26 L492.6,554.21 L494.1,554.16 L495.6,554.12 L497.1,554.08 L498.6,554.05 L500.1,554.02 L501.6,553.99 L503.1,553.96 L504.6,553.94 L506.1,553.92 L507.6,553.9 L509.1,553.88 L510.6,553.86 L512.1,553.85 L513.6,553.84 L515.1,553.83 L516.6,553.82 L518.1,553.81 L519.6,553.8 L521.1,553.79 L522.6,553.79 L524.1,553.78 L525.6,553.78 L527.1,553.77 L528.6,553.77 L530.1,553.77 L531.6,553.76 L533.1,553.76 L534.6,553.76 L536.1,553.76 L537.6,553.76 L539.1,553.76 L540.6,553.75 L542.1,553.75 L543.6,553.75 L545.1,553.75 L546.6,553.75 L548.1,553.75 L549.6,553.75 L551.1,553.75 L552.6,553.76 L554.1,553.76 L555.6,553.76 L557.1,553.76 L558.6,553.76 L560.1,553.76 L561.6,553.76 L563.1,553.76 L564.6,553.76 L566.1,553.76 L567.6,553.77 L569.1,553.77 L570.6,553.77 L572.1,553.77 L573.6,553.77 L575.1,553.77 L576.6,553.77 L578.1,553.77 L579.6,553.78 L581.1,553.78 L582.6,553.78 L584.1,553.78 L585.6,553.78 L587.1,553.78 L588.6,553.78 L590.1,553.79 L591.6,553.79 L593.1,553.79 L594.6,553.79 L596.1,553.79 L597.6,553.79 L599.1,553.79 L600.6,553.79 L602.1,553.8 L603.6,553.8 L605.1,553.8 L606.6,553.8 L608.1,553.8 L609.6,553.8 L611.1,553.8 L612.6,553.8 L614.1,553.8 L615.6,553.8 L617.1,553.81 L618.6,553.81 L620.1,553.81 L621.6,553.81 L623.1,553.81 L624.6,553.81 L626.1,553.81 L627.6,553.81 L629.1,553.81 L630.6,553.81 L632.1,553.81 L633.6,553.81 L635.1,553.81 L636.6,553.81 L638.1,553.81 L639.6,553.81 L641.1,553.81 L642.6,553.81 L644.1,553.81 L645.6,553.81 L647.1,553.81 L648.6,553.81 L650.1,553.81 L651.6,553.81 L653.1,553.81 L654.6,553.81 L656.1,553.81 L657.6,553.81 L659.1,553.81 L660.6,553.81 L662.1,553.81 L663.6,553.81 L665.1,553.8 L666.6,553.8 L668.1,553.8 L669.6,553.8 L671.1,553.8 L672.5,553.8" fill="none" stroke="#008000" stroke-width="2.9"/>
<path d="M422.6,578 L423.35,577.11 L424.1,576.18 L424.85,575.23 L425.6,574.26 L426.35,573.26 L427.1,572.24 L427.85,571.2 L428.6,570.14 L429.35,569.07 L430.1,567.98 L430.85,566.88 L431.6,565.77 L432.35,564.65 L433.1,563.52 L433.85,562.39 L434.6,561.25 L435.35,560.11 L436.1,558.97 L436.85,557.84 L437.6,556.7 L438.35,555.57 L439.1,554.44 L439.85,553.33 L440.6,552.22 L441.35,551.12 L442.1,550.04 L442.85,548.97 L443.6,547.91 L444.35,546.87 L445.1,545.85 L445.85,544.85 L446.6,543.87 L447.35,542.9 L448.1,541.96 L448.85,541.04 L449.6,540.14 L450.35,539.26 L451.1,538.39 L451.85,537.55 L452.6,536.72 L453.6,535.65 L455.1,534.1 L456.6,532.62 L458.1,531.21 L459.6,529.86 L461.1,528.57 L462.6,527.35 L464.1,526.18 L465.6,525.07 L467.1,524 L468.6,522.99 L470.1,522.01 L471.6,521.08 L473.1,520.2 L474.6,519.35 L476.1,518.54 L477.6,517.77 L479.1,517.04 L480.6,516.34 L482.1,515.68 L483.6,515.04 L485.1,514.44 L486.6,513.87 L488.1,513.32 L489.6,512.81 L491.1,512.31 L492.6,511.85 L494.1,511.4 L495.6,510.98 L497.1,510.57 L498.6,510.19 L500.1,509.83 L501.6,509.48 L503.1,509.15 L504.6,508.84 L506.1,508.54 L507.6,508.26 L509.1,507.99 L510.6,507.73 L512.1,507.49 L513.6,507.26 L515.1,507.03 L516.6,506.82 L518.1,506.62 L519.6,506.43 L521.1,506.25 L522.6,506.07 L524.1,505.91 L525.6,505.75 L527.1,505.59 L528.6,505.45 L530.1,505.31 L531.6,505.17 L533.1,505.05 L534.6,504.92 L536.1,504.81 L537.6,504.69 L539.1,504.59 L540.6,504.48 L542.1,504.38 L543.6,504.29 L545.1,504.19 L546.6,504.1 L548.1,504.02 L549.6,503.94 L551.1,503.86 L552.6,503.78 L554.1,503.71 L555.6,503.64 L557.1,503.57 L558.6,503.5 L560.1,503.44 L561.6,503.38 L563.1,503.32 L564.6,503.26 L566.1,503.2 L567.6,503.15 L569.1,503.09 L570.6,503.04 L572.1,502.99 L573.6,502.95 L575.1,502.9 L576.6,502.86 L578.1,502.81 L579.6,502.77 L581.1,502.73 L582.6,502.69 L584.1,502.65 L585.6,502.62 L587.1,502.58 L588.6,502.55 L590.1,502.52 L591.6,502.48 L593.1,502.45 L594.6,502.42 L596.1,502.4 L597.6,502.37 L599.1,502.34 L600.6,502.32 L602.1,502.29 L603.6,502.27 L605.1,502.25 L606.6,502.23 L608.1,502.21 L609.6,502.19 L611.1,502.17 L612.6,502.16 L614.1,502.14 L615.6,502.13 L617.1,502.12 L618.6,502.11 L620.1,502.1 L621.6,502.09 L623.1,502.08 L624.6,502.07 L626.1,502.07 L627.6,502.06 L629.1,502.06 L630.6,502.06 L632.1,502.05 L633.6,502.05 L635.1,502.06 L636.6,502.06 L638.1,502.06 L639.6,502.07 L641.1,502.08 L642.6,502.08 L644.1,502.09 L645.6,502.1 L647.1,502.12 L648.6,502.13 L650.1,502.14 L651.6,502.16 L653.1,502.18 L654.6,502.2 L656.1,502.22 L657.6,502.24 L659.1,502.27 L660.6,502.29 L662.1,502.32 L663.6,502.35 L665.1,502.38 L666.6,502.41 L668.1,502.44 L669.6,502.48 L671.1,502.52 L672.5,502.55" fill="none" stroke="#000080" stroke-width="2.9"/>
<path d="M422.6,578 L423.35,576.31 L424.1,574.6 L424.85,572.87 L425.6,571.13 L426.35,569.38 L427.1,567.61 L427.85,565.83 L428.6,564.05 L429.35,562.25 L430.1,560.46 L430.85,558.66 L431.6,556.85 L432.35,555.05 L433.1,553.25 L433.85,551.46 L434.6,549.66 L435.35,547.88 L436.1,546.1 L436.85,544.33 L437.6,542.58 L438.35,540.83 L439.1,539.1 L439.85,537.39 L440.6,535.69 L441.35,534.01 L442.1,532.35 L442.85,530.7 L443.6,529.07 L444.35,527.46 L445.1,525.85 L445.85,524.27 L446.6,522.69 L447.35,521.13 L448.1,519.59 L448.85,518.05 L449.6,516.53 L450.35,515.02 L451.1,513.53 L451.85,512.04 L452.6,510.57 L453.6,508.62 L455.1,505.73 L456.6,502.89 L458.1,500.09 L459.6,497.35 L461.1,494.65 L462.6,492.01 L464.1,489.41 L465.6,486.87 L467.1,484.39 L468.6,481.95 L470.1,479.57 L471.6,477.24 L473.1,474.97 L474.6,472.76 L476.1,470.59 L477.6,468.48 L479.1,466.43 L480.6,464.43 L482.1,462.48 L483.6,460.59 L485.1,458.75 L486.6,456.96 L488.1,455.23 L489.6,453.55 L491.1,451.91 L492.6,450.33 L494.1,448.79 L495.6,447.31 L497.1,445.86 L498.6,444.47 L500.1,443.12 L501.6,441.81 L503.1,440.55 L504.6,439.33 L506.1,438.15 L507.6,437 L509.1,435.9 L510.6,434.84 L512.1,433.81 L513.6,432.81 L515.1,431.85 L516.6,430.93 L518.1,430.04 L519.6,429.18 L521.1,428.35 L522.6,427.55 L524.1,426.77 L525.6,426.03 L527.1,425.31 L528.6,424.62 L530.1,423.96 L531.6,423.32 L533.1,422.7 L534.6,422.11 L536.1,421.54 L537.6,420.99 L539.1,420.46 L540.6,419.95 L542.1,419.46 L543.6,418.99 L545.1,418.54 L546.6,418.1 L548.1,417.68 L549.6,417.28 L551.1,416.89 L552.6,416.52 L554.1,416.16 L555.6,415.82 L557.1,415.49 L558.6,415.17 L560.1,414.87 L561.6,414.58 L563.1,414.3 L564.6,414.03 L566.1,413.77 L567.6,413.52 L569.1,413.29 L570.6,413.06 L572.1,412.84 L573.6,412.63 L575.1,412.43 L576.6,412.24 L578.1,412.06 L579.6,411.88 L581.1,411.71 L582.6,411.55 L584.1,411.4 L585.6,411.25 L587.1,411.11 L588.6,410.97 L590.1,410.84 L591.6,410.72 L593.1,410.6 L594.6,410.49 L596.1,410.39 L597.6,410.29 L599.1,410.19 L600.6,410.1 L602.1,410.01 L603.6,409.93 L605.1,409.85 L606.6,409.78 L608.1,409.71 L609.6,409.64 L611.1,409.58 L612.6,409.52 L614.1,409.47 L615.6,409.42 L617.1,409.37 L618.6,409.32 L620.1,409.28 L621.6,409.24 L623.1,409.21 L624.6,409.17 L626.1,409.14 L627.6,409.11 L629.1,409.09 L630.6,409.07 L632.1,409.05 L633.6,409.03 L635.1,409.02 L636.6,409 L638.1,408.99 L639.6,408.98 L641.1,408.98 L642.6,408.97 L644.1,408.97 L645.6,408.97 L647.1,408.97 L648.6,408.98 L650.1,408.98 L651.6,408.99 L653.1,409 L654.6,409.01 L656.1,409.03 L657.6,409.04 L659.1,409.06 L660.6,409.08 L662.1,409.1 L663.6,409.12 L665.1,409.14 L666.6,409.16 L668.1,409.19 L669.6,409.22 L671.1,409.25 L672.5,409.28" fill="none" stroke="#8000ff" stroke-width="2.9"/>
<text id="d_yt_15" transform="translate(416.82,351.66) scale(1.0279,1)" font-family="Liberation Sans, sans-serif" font-weight="bold" font-size="17.5" fill="#000" text-anchor="end">15</text>
<text id="d_yt_10" transform="translate(416.89,429.54) scale(1.0415,1)" font-family="Liberation Sans, sans-serif" font-weight="bold" font-size="17.5" fill="#000" text-anchor="end">10</text>
<text id="d_yt_5" transform="translate(416.73,507.1) scale(0.9629,1)" font-family="Liberation Sans, sans-serif" font-weight="bold" font-size="17.5" fill="#000" text-anchor="end">5</text>
<text id="d_yt_0" transform="translate(416.78,583.85) scale(0.9884,1)" font-family="Liberation Sans, sans-serif" font-weight="bold" font-size="17.5" fill="#000" text-anchor="end">0</text>
<text id="d_xt_0" transform="translate(421.84,600.16) scale(1.0171,1)" font-family="Liberation Sans, sans-serif" font-weight="bold" font-size="17" fill="#000" text-anchor="middle">0.0</text>
<text id="d_xt_5" transform="translate(463.65,600.16) scale(1.0413,1)" font-family="Liberation Sans, sans-serif" font-weight="bold" font-size="17" fill="#000" text-anchor="middle">0.5</text>
<text id="d_xt_10" transform="translate(505.54,600.16) scale(1.0636,1)" font-family="Liberation Sans, sans-serif" font-weight="bold" font-size="17" fill="#000" text-anchor="middle">1.0</text>
<text id="d_xt_15" transform="translate(547.28,600.16) scale(1.0569,1)" font-family="Liberation Sans, sans-serif" font-weight="bold" font-size="17" fill="#000" text-anchor="middle">1.5</text>
<text id="d_xt_20" transform="translate(589.36,600.16) scale(1.0436,1)" font-family="Liberation Sans, sans-serif" font-weight="bold" font-size="17" fill="#000" text-anchor="middle">2.0</text>
<text id="d_xt_25" transform="translate(630.14,600.16) scale(1.0669,1)" font-family="Liberation Sans, sans-serif" font-weight="bold" font-size="17" fill="#000" text-anchor="middle">2.5</text>
<text id="d_xt_30" transform="translate(672.1,600) scale(1.0544,1)" font-family="Liberation Sans, sans-serif" font-weight="bold" font-size="17" fill="#000" text-anchor="middle">3.0</text>
<text id="d_xl" transform="translate(410.02,627.86) scale(1.0767,1)" font-family="Liberation Sans, sans-serif" font-weight="bold" font-size="25.4" fill="#000">Drain Voltage, V<tspan dy="5" font-size="14">DS</tspan><tspan dy="-5"> [V]</tspan></text>
<text id="d_yl" transform="translate(386.76,584.17) rotate(-90) scale(0.9453,1)" font-family="Liberation Sans, sans-serif" font-weight="bold" font-size="24.4" fill="#000">Drain Current, I<tspan dy="5" font-size="14">DS</tspan><tspan dy="-5"> [</tspan><tspan font-family="Liberation Serif, serif" font-weight="normal">μ</tspan>A]</text>
<text id="d_lbl" transform="translate(348.31,323.79) scale(1.0141,1)" font-family="Liberation Serif, serif" font-weight="bold" font-size="27" fill="#000">(d)</text>
<text id="d_t1" transform="translate(429.86,363.68) scale(1.0276,1)" font-family="Liberation Sans, sans-serif" font-weight="bold" font-size="15" fill="#000">IGZO TFT (L30W30)</text>
<text id="d_v1" transform="translate(591.35,402.42) scale(0.9921,1)" font-family="Liberation Sans, sans-serif" font-weight="bold" font-size="14.6" fill="#8000ff" stroke="#8000ff" stroke-width="0.25">V<tspan dy="3.4" font-size="9.49">GS</tspan><tspan dy="-3.4"> = 3.0 V</tspan></text>
<text id="d_v2" transform="translate(590.82,495.86) scale(0.9815,1)" font-family="Liberation Sans, sans-serif" font-weight="bold" font-size="14.6" fill="#000080" stroke="#000080" stroke-width="0.25">V<tspan dy="3.4" font-size="9.49">GS</tspan><tspan dy="-3.4"> = 2.5 V</tspan></text>
<text id="d_v3" transform="translate(591.15,548.1) scale(0.9749,1)" font-family="Liberation Sans, sans-serif" font-weight="bold" font-size="14.6" fill="#008000" stroke="#008000" stroke-width="0.25">V<tspan dy="3.4" font-size="9.49">GS</tspan><tspan dy="-3.4"> = 2.0 V</tspan></text>
<text id="d_v4" transform="translate(590.79,568.1) scale(0.9854,1)" font-family="Liberation Sans, sans-serif" font-weight="bold" font-size="14.6" fill="#ff00ff" stroke="#ff00ff" stroke-width="0.25">V<tspan dy="3.4" font-size="9.49">GS</tspan><tspan dy="-3.4"> = 1.5 V</tspan></text>
</svg>
</body></html>
